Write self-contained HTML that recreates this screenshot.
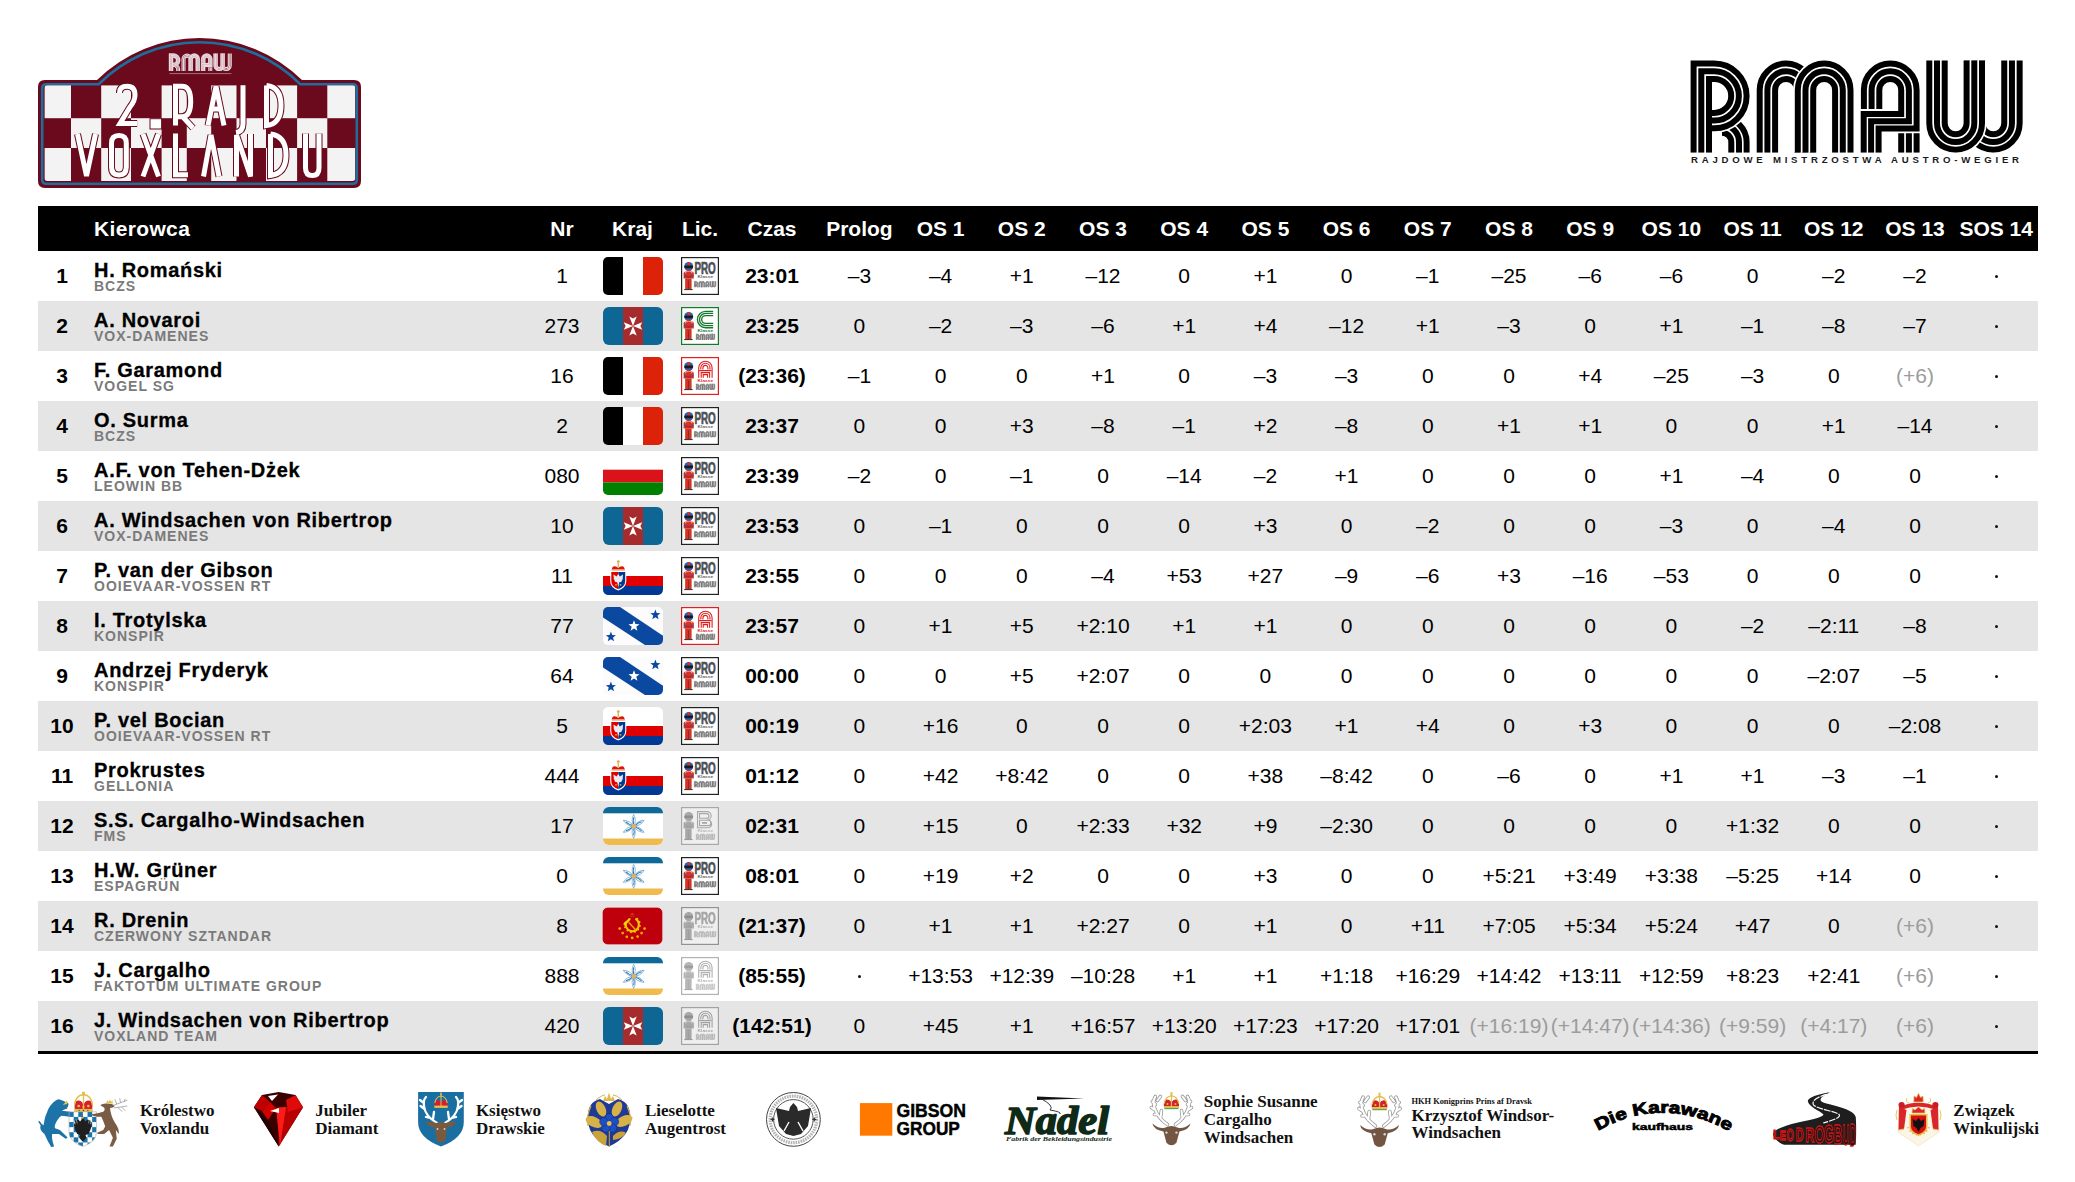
<!DOCTYPE html><html><head><meta charset="utf-8"><title>2. Rajd Voxlandu</title><style>
*{box-sizing:border-box}
html,body{margin:0;padding:0}
body{width:2075px;height:1182px;overflow:hidden;background:#fff;position:relative;font-family:"Liberation Sans",sans-serif;color:#000}
.a{position:absolute;white-space:nowrap}
.hd{position:absolute;left:38px;top:206px;width:1999.5px;height:45px;background:#000}
.ht{position:absolute;top:217.6px;height:22px;line-height:22px;font-size:21px;font-weight:bold;color:#fff;text-align:center;white-space:nowrap}
.row{position:absolute;left:38px;width:1999.5px;height:50px}
.row.g{background:#e5e5e5}
.c{position:absolute;width:120px;text-align:center;height:22px;line-height:22px;font-size:21px;white-space:nowrap}
.rk{font-weight:bold}
.nm{position:absolute;left:94px;font-size:20px;font-weight:bold;-webkit-text-stroke:0.3px #000;height:22px;line-height:22px;letter-spacing:0.7px;white-space:nowrap}
.tm{position:absolute;left:94px;font-size:14px;font-weight:bold;color:#7a7a7a;height:14px;line-height:14px;letter-spacing:1px;white-space:nowrap}
.gr{color:#9c9c9c}
.fl{position:absolute;left:603px;width:60px;height:38px}
.lic{position:absolute;left:681px;width:38px;height:38px}
.bot{position:absolute;left:38px;top:1051px;width:1999.5px;height:3px;background:#000}
</style></head><body>
<svg width="0" height="0" style="position:absolute"><defs><g id="rmawlogo"><clipPath id="rmclip3"><rect x="1660" y="40" width="400" height="112.7"/></clipPath><g clip-path="url(#rmclip3)"><path d="M1722,132.70 A9.30,9.30 0 0 1 1731.30,142 V152.7 M1722,125.00 A17.00,17.00 0 0 1 1739.00,142 V152.7 M1722,117.40 A24.60,24.60 0 0 1 1746.60,142 V152.7" fill="none" stroke="#2a2a2a" stroke-width="6.0" stroke-linejoin="miter" stroke-miterlimit="10"/><path d="M1693.60,152.7 V63.60 H1714.25 A32.35,32.35 0 0 1 1714.25,128.30 H1709 M1701.30,152.7 V71.30 H1714.25 A24.65,24.65 0 0 1 1714.25,120.60 H1709 M1709.00,152.7 V79.00 H1714.25 A16.95,16.95 0 0 1 1714.25,112.90 H1709" fill="none" stroke="#fff" stroke-width="9.40" stroke-linejoin="miter" stroke-miterlimit="10"/><path d="M1693.60,152.7 V63.60 H1714.25 A32.35,32.35 0 0 1 1714.25,128.30 H1709 M1701.30,152.7 V71.30 H1714.25 A24.65,24.65 0 0 1 1714.25,120.60 H1709 M1709.00,152.7 V79.00 H1714.25 A16.95,16.95 0 0 1 1714.25,112.90 H1709" fill="none" stroke="#2a2a2a" stroke-width="6.0" stroke-linejoin="miter" stroke-miterlimit="10"/><path d="M1759.70,152.7 V89.95 A26.35,26.35 0 0 1 1812.40,89.95 V152.7 M1767.40,152.7 V89.95 A18.65,18.65 0 0 1 1804.70,89.95 V152.7 M1775.10,152.7 V89.95 A10.95,10.95 0 0 1 1797.00,89.95 V152.7" fill="none" stroke="#2a2a2a" stroke-width="6.0" stroke-linejoin="miter" stroke-miterlimit="10"/><path d="M1797.80,152.7 V89.95 A26.35,26.35 0 0 1 1850.50,89.95 V152.7 M1805.50,152.7 V89.95 A18.65,18.65 0 0 1 1842.80,89.95 V152.7 M1813.20,152.7 V89.95 A10.95,10.95 0 0 1 1835.10,89.95 V152.7" fill="none" stroke="#fff" stroke-width="9.40" stroke-linejoin="miter" stroke-miterlimit="10"/><path d="M1797.80,152.7 V89.95 A26.35,26.35 0 0 1 1850.50,89.95 V152.7 M1805.50,152.7 V89.95 A18.65,18.65 0 0 1 1842.80,89.95 V152.7 M1813.20,152.7 V89.95 A10.95,10.95 0 0 1 1835.10,89.95 V152.7" fill="none" stroke="#2a2a2a" stroke-width="6.0" stroke-linejoin="miter" stroke-miterlimit="10"/><path d="M1863.90,109 V89.95 A26.35,26.35 0 0 1 1916.60,89.95 V128.5 H1878.6 V152.7 M1871.60,109 V89.95 A18.65,18.65 0 0 1 1908.90,89.95 V121.3 H1871.1 V152.7 M1879.30,109 V89.95 A10.95,10.95 0 0 1 1901.20,89.95 V113.9 H1863.7 V152.7" fill="none" stroke="#fff" stroke-width="9.40" stroke-linejoin="miter" stroke-miterlimit="10"/><path d="M1863.90,109 V89.95 A26.35,26.35 0 0 1 1916.60,89.95 V128.5 H1878.6 V152.7 M1871.60,109 V89.95 A18.65,18.65 0 0 1 1908.90,89.95 V121.3 H1871.1 V152.7 M1879.30,109 V89.95 A10.95,10.95 0 0 1 1901.20,89.95 V113.9 H1863.7 V152.7" fill="none" stroke="#2a2a2a" stroke-width="6.0" stroke-linejoin="miter" stroke-miterlimit="10"/><path d="M1901.2,133.3 V152.7 M1908.9,133.3 V152.7 M1916.6,133.3 V152.7" fill="none" stroke="#2a2a2a" stroke-width="6.0" stroke-linejoin="miter" stroke-miterlimit="10"/><path d="M1966.95,60.6 V123.35 A26.35,26.35 0 0 0 2019.65,123.35 V60.6 M1974.65,60.6 V123.35 A18.65,18.65 0 0 0 2011.95,123.35 V60.6 M1982.35,60.6 V123.35 A10.95,10.95 0 0 0 2004.25,123.35 V60.6" fill="none" stroke="#2a2a2a" stroke-width="6.0" stroke-linejoin="miter" stroke-miterlimit="10"/><path d="M1929.30,60.6 V123.35 A26.35,26.35 0 0 0 1982.00,123.35 V60.6 M1937.00,60.6 V123.35 A18.65,18.65 0 0 0 1974.30,123.35 V60.6 M1944.70,60.6 V123.35 A10.95,10.95 0 0 0 1966.60,123.35 V60.6" fill="none" stroke="#fff" stroke-width="9.40" stroke-linejoin="miter" stroke-miterlimit="10"/><path d="M1929.30,60.6 V123.35 A26.35,26.35 0 0 0 1982.00,123.35 V60.6 M1937.00,60.6 V123.35 A18.65,18.65 0 0 0 1974.30,123.35 V60.6 M1944.70,60.6 V123.35 A10.95,10.95 0 0 0 1966.60,123.35 V60.6" fill="none" stroke="#2a2a2a" stroke-width="6.0" stroke-linejoin="miter" stroke-miterlimit="10"/></g></g></defs></svg>
<div class="hd"></div>
<div class="ht" style="left:94px;text-align:left;letter-spacing:0.35px">Kierowca</div>
<div class="ht" style="left:502.0px;width:120px">Nr</div>
<div class="ht" style="left:572.5px;width:120px">Kraj</div>
<div class="ht" style="left:640.0px;width:120px">Lic.</div>
<div class="ht" style="left:712.0px;width:120px">Czas</div>
<div class="ht" style="left:799.4px;width:120px">Prolog</div>
<div class="ht" style="left:880.6px;width:120px">OS 1</div>
<div class="ht" style="left:961.8px;width:120px">OS 2</div>
<div class="ht" style="left:1043.0px;width:120px">OS 3</div>
<div class="ht" style="left:1124.2px;width:120px">OS 4</div>
<div class="ht" style="left:1205.4px;width:120px">OS 5</div>
<div class="ht" style="left:1286.6px;width:120px">OS 6</div>
<div class="ht" style="left:1367.8px;width:120px">OS 7</div>
<div class="ht" style="left:1449.0px;width:120px">OS 8</div>
<div class="ht" style="left:1530.2px;width:120px">OS 9</div>
<div class="ht" style="left:1611.4px;width:120px">OS 10</div>
<div class="ht" style="left:1692.6px;width:120px">OS 11</div>
<div class="ht" style="left:1773.8px;width:120px">OS 12</div>
<div class="ht" style="left:1855.0px;width:120px">OS 13</div>
<div class="ht" style="left:1936.2px;width:120px">SOS 14</div>
<div class="row" style="top:251px"></div>
<div class="c rk" style="left:2px;top:264.9px">1</div>
<div class="nm" style="top:259.3px">H. Romański</div>
<div class="tm" style="top:279.0px">BCZS</div>
<div class="c" style="left:502.0px;top:264.9px">1</div>
<svg class="fl" style="top:257px" viewBox="0 0 60 38"><clipPath id="cb0"><rect width="60" height="38" rx="5"/></clipPath><g clip-path="url(#cb0)"><rect width="20" height="38" fill="#000"/><rect x="20" width="20" height="38" fill="#fff"/><rect x="40" width="20" height="38" fill="#dc2208"/></g></svg>
<svg class="lic" style="top:257px" viewBox="0 0 38 38"><rect x="0.6" y="0.6" width="36.8" height="36.8" fill="#fff" stroke="#222" stroke-width="1.2"/><g><path d="M2.6 16.2 Q2.6 14.4 4.6 14.4 H10.8 Q12.8 14.4 12.8 16.2 V21.4 H2.6 Z" fill="#d8302a"/><path d="M3 17.5 Q7.7 20.5 12.4 17.5 L12.4 19.6 Q7.7 22 3 19.6 Z" fill="#c02420"/><circle cx="4.4" cy="18.8" r="1.1" fill="#2f5fb0"/><circle cx="11" cy="18.8" r="1.1" fill="#2f5fb0"/><circle cx="4.6" cy="15.6" r="0.8" fill="#f0b040"/><circle cx="10.8" cy="15.6" r="0.8" fill="#f0b040"/><rect x="4" y="21.4" width="6.6" height="10.8" fill="#d8302a"/><rect x="7" y="23.5" width="0.7" height="8.7" fill="#6a2a20"/><rect x="4" y="21.4" width="0.6" height="10.8" fill="#c8a040" opacity="0.7"/><rect x="10" y="21.4" width="0.6" height="10.8" fill="#c8a040" opacity="0.7"/><rect x="3.2" y="32" width="8.4" height="1.1" fill="#3a3a3a"/><circle cx="7.7" cy="9.5" r="4.5" fill="#2f5fb0"/><path d="M6.6 5 H8.8 L8.6 9 H6.8 Z" fill="#d8302a"/><rect x="3.4" y="8.6" width="8.6" height="2.6" rx="1" fill="#1a1a1a"/><path d="M5.5 12 Q7.7 14.6 9.9 12 L9.6 13.8 Q7.7 14.8 5.8 13.8 Z" fill="#d8302a"/></g><text x="13.4" y="17.1" font-family="Liberation Sans" font-weight="bold" font-size="15.6" fill="#4b5056" stroke="#4b5056" stroke-width="0.7" textLength="21.4" lengthAdjust="spacingAndGlyphs">PRO</text><text x="16.6" y="21.4" font-family="Liberation Sans" font-weight="bold" font-size="3.2" fill="#666" textLength="15.6" lengthAdjust="spacingAndGlyphs">Klasse</text><use href="#rmawlogo" transform="translate(13.2,24.2) scale(0.06564 0.06840) translate(-1690.6,-60.6)"/></svg>
<div class="c" style="left:712.0px;top:264.9px;font-weight:bold">23:01</div>
<div class="c" style="left:799.4px;top:264.9px">–3</div>
<div class="c" style="left:880.6px;top:264.9px">–4</div>
<div class="c" style="left:961.8px;top:264.9px">+1</div>
<div class="c" style="left:1043.0px;top:264.9px">–12</div>
<div class="c" style="left:1124.2px;top:264.9px">0</div>
<div class="c" style="left:1205.4px;top:264.9px">+1</div>
<div class="c" style="left:1286.6px;top:264.9px">0</div>
<div class="c" style="left:1367.8px;top:264.9px">–1</div>
<div class="c" style="left:1449.0px;top:264.9px">–25</div>
<div class="c" style="left:1530.2px;top:264.9px">–6</div>
<div class="c" style="left:1611.4px;top:264.9px">–6</div>
<div class="c" style="left:1692.6px;top:264.9px">0</div>
<div class="c" style="left:1773.8px;top:264.9px">–2</div>
<div class="c" style="left:1855.0px;top:264.9px">–2</div>
<div class="a" style="left:1994.7px;top:275.2px;width:3px;height:3px;border-radius:50%;background:#111"></div>
<div class="row g" style="top:301px"></div>
<div class="c rk" style="left:2px;top:314.9px">2</div>
<div class="nm" style="top:309.3px">A. Novaroi</div>
<div class="tm" style="top:329.0px">VOX-DAMENES</div>
<div class="c" style="left:502.0px;top:314.9px">273</div>
<svg class="fl" style="top:307px" viewBox="0 0 60 38"><clipPath id="cb1"><rect width="60" height="38" rx="6"/></clipPath><g clip-path="url(#cb1)"><rect width="60" height="38" fill="#0e6694"/><rect x="20" width="20" height="38" fill="#a62b2c"/></g><path d="M30 19 L26.3 9.5 L30 11.6 L33.7 9.5 Z M30 19 L26.3 28.5 L30 26.4 L33.7 28.5 Z M30 19 L20.8 15.2 L22.6 19 L20.8 22.8 Z M30 19 L39.2 15.2 L37.4 19 L39.2 22.8 Z" fill="#fff"/></svg>
<svg class="lic" style="top:307px" viewBox="0 0 38 38"><rect x="0.6" y="0.6" width="36.8" height="36.8" fill="#fff" stroke="#137a2b" stroke-width="1.2"/><g><path d="M2.6 16.2 Q2.6 14.4 4.6 14.4 H10.8 Q12.8 14.4 12.8 16.2 V21.4 H2.6 Z" fill="#d8302a"/><path d="M3 17.5 Q7.7 20.5 12.4 17.5 L12.4 19.6 Q7.7 22 3 19.6 Z" fill="#c02420"/><circle cx="4.4" cy="18.8" r="1.1" fill="#2f5fb0"/><circle cx="11" cy="18.8" r="1.1" fill="#2f5fb0"/><circle cx="4.6" cy="15.6" r="0.8" fill="#f0b040"/><circle cx="10.8" cy="15.6" r="0.8" fill="#f0b040"/><rect x="4" y="21.4" width="6.6" height="10.8" fill="#d8302a"/><rect x="7" y="23.5" width="0.7" height="8.7" fill="#6a2a20"/><rect x="4" y="21.4" width="0.6" height="10.8" fill="#c8a040" opacity="0.7"/><rect x="10" y="21.4" width="0.6" height="10.8" fill="#c8a040" opacity="0.7"/><rect x="3.2" y="32" width="8.4" height="1.1" fill="#3a3a3a"/><circle cx="7.7" cy="9.5" r="4.5" fill="#2f5fb0"/><path d="M6.6 5 H8.8 L8.6 9 H6.8 Z" fill="#d8302a"/><rect x="3.4" y="8.6" width="8.6" height="2.6" rx="1" fill="#1a1a1a"/><path d="M5.5 12 Q7.7 14.6 9.9 12 L9.6 13.8 Q7.7 14.8 5.8 13.8 Z" fill="#d8302a"/></g><path d="M32.2 4.30 H24.6 A8.2 8.2 0 0 0 24.6 20.70 H32.2" fill="none" stroke="#137a2b" stroke-width="1.35"/><path d="M32.2 6.40 H24.6 A6.1 6.1 0 0 0 24.6 18.60 H32.2" fill="none" stroke="#137a2b" stroke-width="1.35"/><path d="M32.2 8.60 H24.6 A3.9 3.9 0 0 0 24.6 16.40 H32.2" fill="none" stroke="#137a2b" stroke-width="1.35"/><text x="16.6" y="24.9" font-family="Liberation Sans" font-weight="bold" font-size="3.2" fill="#137a2b" textLength="15.6" lengthAdjust="spacingAndGlyphs">Klasse</text><use href="#rmawlogo" transform="translate(15.1,26.8) scale(0.05661 0.06840) translate(-1690.6,-60.6)"/></svg>
<div class="c" style="left:712.0px;top:314.9px;font-weight:bold">23:25</div>
<div class="c" style="left:799.4px;top:314.9px">0</div>
<div class="c" style="left:880.6px;top:314.9px">–2</div>
<div class="c" style="left:961.8px;top:314.9px">–3</div>
<div class="c" style="left:1043.0px;top:314.9px">–6</div>
<div class="c" style="left:1124.2px;top:314.9px">+1</div>
<div class="c" style="left:1205.4px;top:314.9px">+4</div>
<div class="c" style="left:1286.6px;top:314.9px">–12</div>
<div class="c" style="left:1367.8px;top:314.9px">+1</div>
<div class="c" style="left:1449.0px;top:314.9px">–3</div>
<div class="c" style="left:1530.2px;top:314.9px">0</div>
<div class="c" style="left:1611.4px;top:314.9px">+1</div>
<div class="c" style="left:1692.6px;top:314.9px">–1</div>
<div class="c" style="left:1773.8px;top:314.9px">–8</div>
<div class="c" style="left:1855.0px;top:314.9px">–7</div>
<div class="a" style="left:1994.7px;top:325.2px;width:3px;height:3px;border-radius:50%;background:#111"></div>
<div class="row" style="top:351px"></div>
<div class="c rk" style="left:2px;top:364.9px">3</div>
<div class="nm" style="top:359.3px">F. Garamond</div>
<div class="tm" style="top:379.0px">VOGEL SG</div>
<div class="c" style="left:502.0px;top:364.9px">16</div>
<svg class="fl" style="top:357px" viewBox="0 0 60 38"><clipPath id="cb2"><rect width="60" height="38" rx="5"/></clipPath><g clip-path="url(#cb2)"><rect width="20" height="38" fill="#000"/><rect x="20" width="20" height="38" fill="#fff"/><rect x="40" width="20" height="38" fill="#dc2208"/></g></svg>
<svg class="lic" style="top:357px" viewBox="0 0 38 38"><rect x="0.6" y="0.6" width="36.8" height="36.8" fill="#fff" stroke="#e01e1e" stroke-width="1.2"/><g><path d="M2.6 16.2 Q2.6 14.4 4.6 14.4 H10.8 Q12.8 14.4 12.8 16.2 V21.4 H2.6 Z" fill="#d8302a"/><path d="M3 17.5 Q7.7 20.5 12.4 17.5 L12.4 19.6 Q7.7 22 3 19.6 Z" fill="#c02420"/><circle cx="4.4" cy="18.8" r="1.1" fill="#2f5fb0"/><circle cx="11" cy="18.8" r="1.1" fill="#2f5fb0"/><circle cx="4.6" cy="15.6" r="0.8" fill="#f0b040"/><circle cx="10.8" cy="15.6" r="0.8" fill="#f0b040"/><rect x="4" y="21.4" width="6.6" height="10.8" fill="#d8302a"/><rect x="7" y="23.5" width="0.7" height="8.7" fill="#6a2a20"/><rect x="4" y="21.4" width="0.6" height="10.8" fill="#c8a040" opacity="0.7"/><rect x="10" y="21.4" width="0.6" height="10.8" fill="#c8a040" opacity="0.7"/><rect x="3.2" y="32" width="8.4" height="1.1" fill="#3a3a3a"/><circle cx="7.7" cy="9.5" r="4.5" fill="#2f5fb0"/><path d="M6.6 5 H8.8 L8.6 9 H6.8 Z" fill="#d8302a"/><rect x="3.4" y="8.6" width="8.6" height="2.6" rx="1" fill="#1a1a1a"/><path d="M5.5 12 Q7.7 14.6 9.9 12 L9.6 13.8 Q7.7 14.8 5.8 13.8 Z" fill="#d8302a"/></g><path d="M17.70 20.8 V10.9 A6.7 6.7 0 0 1 31.10 10.9 V20.8" fill="none" stroke="#e01e1e" stroke-width="1.1"/><path d="M19.80 12.6 V10.9 A4.6 4.6 0 0 1 29.00 10.9 V12.6" fill="none" stroke="#e01e1e" stroke-width="1.1"/><path d="M21.90 12.6 V10.9 A2.5 2.5 0 0 1 26.90 10.9 V12.6" fill="none" stroke="#e01e1e" stroke-width="1.1"/><path d="M18.2 13.6 H30.6 M20.2 20.8 V15.6 H28.6 V20.8 M22.2 20.8 V17.6 H26.6 V20.8" fill="none" stroke="#e01e1e" stroke-width="1.1"/><text x="16.6" y="24.9" font-family="Liberation Sans" font-weight="bold" font-size="3.2" fill="#e01e1e" textLength="15.6" lengthAdjust="spacingAndGlyphs">Klasse</text><use href="#rmawlogo" transform="translate(15.1,26.8) scale(0.05661 0.06840) translate(-1690.6,-60.6)"/></svg>
<div class="c" style="left:712.0px;top:364.9px;font-weight:bold">(23:36)</div>
<div class="c" style="left:799.4px;top:364.9px">–1</div>
<div class="c" style="left:880.6px;top:364.9px">0</div>
<div class="c" style="left:961.8px;top:364.9px">0</div>
<div class="c" style="left:1043.0px;top:364.9px">+1</div>
<div class="c" style="left:1124.2px;top:364.9px">0</div>
<div class="c" style="left:1205.4px;top:364.9px">–3</div>
<div class="c" style="left:1286.6px;top:364.9px">–3</div>
<div class="c" style="left:1367.8px;top:364.9px">0</div>
<div class="c" style="left:1449.0px;top:364.9px">0</div>
<div class="c" style="left:1530.2px;top:364.9px">+4</div>
<div class="c" style="left:1611.4px;top:364.9px">–25</div>
<div class="c" style="left:1692.6px;top:364.9px">–3</div>
<div class="c" style="left:1773.8px;top:364.9px">0</div>
<div class="c gr" style="left:1855.0px;top:364.9px">(+6)</div>
<div class="a" style="left:1994.7px;top:375.2px;width:3px;height:3px;border-radius:50%;background:#111"></div>
<div class="row g" style="top:401px"></div>
<div class="c rk" style="left:2px;top:414.9px">4</div>
<div class="nm" style="top:409.3px">O. Surma</div>
<div class="tm" style="top:429.0px">BCZS</div>
<div class="c" style="left:502.0px;top:414.9px">2</div>
<svg class="fl" style="top:407px" viewBox="0 0 60 38"><clipPath id="cb3"><rect width="60" height="38" rx="5"/></clipPath><g clip-path="url(#cb3)"><rect width="20" height="38" fill="#000"/><rect x="20" width="20" height="38" fill="#fff"/><rect x="40" width="20" height="38" fill="#dc2208"/></g></svg>
<svg class="lic" style="top:407px" viewBox="0 0 38 38"><rect x="0.6" y="0.6" width="36.8" height="36.8" fill="#fff" stroke="#222" stroke-width="1.2"/><g><path d="M2.6 16.2 Q2.6 14.4 4.6 14.4 H10.8 Q12.8 14.4 12.8 16.2 V21.4 H2.6 Z" fill="#d8302a"/><path d="M3 17.5 Q7.7 20.5 12.4 17.5 L12.4 19.6 Q7.7 22 3 19.6 Z" fill="#c02420"/><circle cx="4.4" cy="18.8" r="1.1" fill="#2f5fb0"/><circle cx="11" cy="18.8" r="1.1" fill="#2f5fb0"/><circle cx="4.6" cy="15.6" r="0.8" fill="#f0b040"/><circle cx="10.8" cy="15.6" r="0.8" fill="#f0b040"/><rect x="4" y="21.4" width="6.6" height="10.8" fill="#d8302a"/><rect x="7" y="23.5" width="0.7" height="8.7" fill="#6a2a20"/><rect x="4" y="21.4" width="0.6" height="10.8" fill="#c8a040" opacity="0.7"/><rect x="10" y="21.4" width="0.6" height="10.8" fill="#c8a040" opacity="0.7"/><rect x="3.2" y="32" width="8.4" height="1.1" fill="#3a3a3a"/><circle cx="7.7" cy="9.5" r="4.5" fill="#2f5fb0"/><path d="M6.6 5 H8.8 L8.6 9 H6.8 Z" fill="#d8302a"/><rect x="3.4" y="8.6" width="8.6" height="2.6" rx="1" fill="#1a1a1a"/><path d="M5.5 12 Q7.7 14.6 9.9 12 L9.6 13.8 Q7.7 14.8 5.8 13.8 Z" fill="#d8302a"/></g><text x="13.4" y="17.1" font-family="Liberation Sans" font-weight="bold" font-size="15.6" fill="#4b5056" stroke="#4b5056" stroke-width="0.7" textLength="21.4" lengthAdjust="spacingAndGlyphs">PRO</text><text x="16.6" y="21.4" font-family="Liberation Sans" font-weight="bold" font-size="3.2" fill="#666" textLength="15.6" lengthAdjust="spacingAndGlyphs">Klasse</text><use href="#rmawlogo" transform="translate(13.2,24.2) scale(0.06564 0.06840) translate(-1690.6,-60.6)"/></svg>
<div class="c" style="left:712.0px;top:414.9px;font-weight:bold">23:37</div>
<div class="c" style="left:799.4px;top:414.9px">0</div>
<div class="c" style="left:880.6px;top:414.9px">0</div>
<div class="c" style="left:961.8px;top:414.9px">+3</div>
<div class="c" style="left:1043.0px;top:414.9px">–8</div>
<div class="c" style="left:1124.2px;top:414.9px">–1</div>
<div class="c" style="left:1205.4px;top:414.9px">+2</div>
<div class="c" style="left:1286.6px;top:414.9px">–8</div>
<div class="c" style="left:1367.8px;top:414.9px">0</div>
<div class="c" style="left:1449.0px;top:414.9px">+1</div>
<div class="c" style="left:1530.2px;top:414.9px">+1</div>
<div class="c" style="left:1611.4px;top:414.9px">0</div>
<div class="c" style="left:1692.6px;top:414.9px">0</div>
<div class="c" style="left:1773.8px;top:414.9px">+1</div>
<div class="c" style="left:1855.0px;top:414.9px">–14</div>
<div class="a" style="left:1994.7px;top:425.2px;width:3px;height:3px;border-radius:50%;background:#111"></div>
<div class="row" style="top:451px"></div>
<div class="c rk" style="left:2px;top:464.9px">5</div>
<div class="nm" style="top:459.3px">A.F. von Tehen-Dżek</div>
<div class="tm" style="top:479.0px">LEOWIN BB</div>
<div class="c" style="left:502.0px;top:464.9px">080</div>
<svg class="fl" style="top:457px" viewBox="0 0 60 38"><clipPath id="cb4"><rect width="60" height="38" rx="5"/></clipPath><g clip-path="url(#cb4)"><rect width="60" height="12.7" fill="#fff"/><rect y="12.7" width="60" height="12.7" fill="#d91319"/><rect y="25.4" width="60" height="12.6" fill="#008000"/></g></svg>
<svg class="lic" style="top:457px" viewBox="0 0 38 38"><rect x="0.6" y="0.6" width="36.8" height="36.8" fill="#fff" stroke="#222" stroke-width="1.2"/><g><path d="M2.6 16.2 Q2.6 14.4 4.6 14.4 H10.8 Q12.8 14.4 12.8 16.2 V21.4 H2.6 Z" fill="#d8302a"/><path d="M3 17.5 Q7.7 20.5 12.4 17.5 L12.4 19.6 Q7.7 22 3 19.6 Z" fill="#c02420"/><circle cx="4.4" cy="18.8" r="1.1" fill="#2f5fb0"/><circle cx="11" cy="18.8" r="1.1" fill="#2f5fb0"/><circle cx="4.6" cy="15.6" r="0.8" fill="#f0b040"/><circle cx="10.8" cy="15.6" r="0.8" fill="#f0b040"/><rect x="4" y="21.4" width="6.6" height="10.8" fill="#d8302a"/><rect x="7" y="23.5" width="0.7" height="8.7" fill="#6a2a20"/><rect x="4" y="21.4" width="0.6" height="10.8" fill="#c8a040" opacity="0.7"/><rect x="10" y="21.4" width="0.6" height="10.8" fill="#c8a040" opacity="0.7"/><rect x="3.2" y="32" width="8.4" height="1.1" fill="#3a3a3a"/><circle cx="7.7" cy="9.5" r="4.5" fill="#2f5fb0"/><path d="M6.6 5 H8.8 L8.6 9 H6.8 Z" fill="#d8302a"/><rect x="3.4" y="8.6" width="8.6" height="2.6" rx="1" fill="#1a1a1a"/><path d="M5.5 12 Q7.7 14.6 9.9 12 L9.6 13.8 Q7.7 14.8 5.8 13.8 Z" fill="#d8302a"/></g><text x="13.4" y="17.1" font-family="Liberation Sans" font-weight="bold" font-size="15.6" fill="#4b5056" stroke="#4b5056" stroke-width="0.7" textLength="21.4" lengthAdjust="spacingAndGlyphs">PRO</text><text x="16.6" y="21.4" font-family="Liberation Sans" font-weight="bold" font-size="3.2" fill="#666" textLength="15.6" lengthAdjust="spacingAndGlyphs">Klasse</text><use href="#rmawlogo" transform="translate(13.2,24.2) scale(0.06564 0.06840) translate(-1690.6,-60.6)"/></svg>
<div class="c" style="left:712.0px;top:464.9px;font-weight:bold">23:39</div>
<div class="c" style="left:799.4px;top:464.9px">–2</div>
<div class="c" style="left:880.6px;top:464.9px">0</div>
<div class="c" style="left:961.8px;top:464.9px">–1</div>
<div class="c" style="left:1043.0px;top:464.9px">0</div>
<div class="c" style="left:1124.2px;top:464.9px">–14</div>
<div class="c" style="left:1205.4px;top:464.9px">–2</div>
<div class="c" style="left:1286.6px;top:464.9px">+1</div>
<div class="c" style="left:1367.8px;top:464.9px">0</div>
<div class="c" style="left:1449.0px;top:464.9px">0</div>
<div class="c" style="left:1530.2px;top:464.9px">0</div>
<div class="c" style="left:1611.4px;top:464.9px">+1</div>
<div class="c" style="left:1692.6px;top:464.9px">–4</div>
<div class="c" style="left:1773.8px;top:464.9px">0</div>
<div class="c" style="left:1855.0px;top:464.9px">0</div>
<div class="a" style="left:1994.7px;top:475.2px;width:3px;height:3px;border-radius:50%;background:#111"></div>
<div class="row g" style="top:501px"></div>
<div class="c rk" style="left:2px;top:514.9px">6</div>
<div class="nm" style="top:509.3px">A. Windsachen von Ribertrop</div>
<div class="tm" style="top:529.0px">VOX-DAMENES</div>
<div class="c" style="left:502.0px;top:514.9px">10</div>
<svg class="fl" style="top:507px" viewBox="0 0 60 38"><clipPath id="cb5"><rect width="60" height="38" rx="6"/></clipPath><g clip-path="url(#cb5)"><rect width="60" height="38" fill="#0e6694"/><rect x="20" width="20" height="38" fill="#a62b2c"/></g><path d="M30 19 L26.3 9.5 L30 11.6 L33.7 9.5 Z M30 19 L26.3 28.5 L30 26.4 L33.7 28.5 Z M30 19 L20.8 15.2 L22.6 19 L20.8 22.8 Z M30 19 L39.2 15.2 L37.4 19 L39.2 22.8 Z" fill="#fff"/></svg>
<svg class="lic" style="top:507px" viewBox="0 0 38 38"><rect x="0.6" y="0.6" width="36.8" height="36.8" fill="#fff" stroke="#222" stroke-width="1.2"/><g><path d="M2.6 16.2 Q2.6 14.4 4.6 14.4 H10.8 Q12.8 14.4 12.8 16.2 V21.4 H2.6 Z" fill="#d8302a"/><path d="M3 17.5 Q7.7 20.5 12.4 17.5 L12.4 19.6 Q7.7 22 3 19.6 Z" fill="#c02420"/><circle cx="4.4" cy="18.8" r="1.1" fill="#2f5fb0"/><circle cx="11" cy="18.8" r="1.1" fill="#2f5fb0"/><circle cx="4.6" cy="15.6" r="0.8" fill="#f0b040"/><circle cx="10.8" cy="15.6" r="0.8" fill="#f0b040"/><rect x="4" y="21.4" width="6.6" height="10.8" fill="#d8302a"/><rect x="7" y="23.5" width="0.7" height="8.7" fill="#6a2a20"/><rect x="4" y="21.4" width="0.6" height="10.8" fill="#c8a040" opacity="0.7"/><rect x="10" y="21.4" width="0.6" height="10.8" fill="#c8a040" opacity="0.7"/><rect x="3.2" y="32" width="8.4" height="1.1" fill="#3a3a3a"/><circle cx="7.7" cy="9.5" r="4.5" fill="#2f5fb0"/><path d="M6.6 5 H8.8 L8.6 9 H6.8 Z" fill="#d8302a"/><rect x="3.4" y="8.6" width="8.6" height="2.6" rx="1" fill="#1a1a1a"/><path d="M5.5 12 Q7.7 14.6 9.9 12 L9.6 13.8 Q7.7 14.8 5.8 13.8 Z" fill="#d8302a"/></g><text x="13.4" y="17.1" font-family="Liberation Sans" font-weight="bold" font-size="15.6" fill="#4b5056" stroke="#4b5056" stroke-width="0.7" textLength="21.4" lengthAdjust="spacingAndGlyphs">PRO</text><text x="16.6" y="21.4" font-family="Liberation Sans" font-weight="bold" font-size="3.2" fill="#666" textLength="15.6" lengthAdjust="spacingAndGlyphs">Klasse</text><use href="#rmawlogo" transform="translate(13.2,24.2) scale(0.06564 0.06840) translate(-1690.6,-60.6)"/></svg>
<div class="c" style="left:712.0px;top:514.9px;font-weight:bold">23:53</div>
<div class="c" style="left:799.4px;top:514.9px">0</div>
<div class="c" style="left:880.6px;top:514.9px">–1</div>
<div class="c" style="left:961.8px;top:514.9px">0</div>
<div class="c" style="left:1043.0px;top:514.9px">0</div>
<div class="c" style="left:1124.2px;top:514.9px">0</div>
<div class="c" style="left:1205.4px;top:514.9px">+3</div>
<div class="c" style="left:1286.6px;top:514.9px">0</div>
<div class="c" style="left:1367.8px;top:514.9px">–2</div>
<div class="c" style="left:1449.0px;top:514.9px">0</div>
<div class="c" style="left:1530.2px;top:514.9px">0</div>
<div class="c" style="left:1611.4px;top:514.9px">–3</div>
<div class="c" style="left:1692.6px;top:514.9px">0</div>
<div class="c" style="left:1773.8px;top:514.9px">–4</div>
<div class="c" style="left:1855.0px;top:514.9px">0</div>
<div class="a" style="left:1994.7px;top:525.2px;width:3px;height:3px;border-radius:50%;background:#111"></div>
<div class="row" style="top:551px"></div>
<div class="c rk" style="left:2px;top:564.9px">7</div>
<div class="nm" style="top:559.3px">P. van der Gibson</div>
<div class="tm" style="top:579.0px">OOIEVAAR-VOSSEN RT</div>
<div class="c" style="left:502.0px;top:564.9px">11</div>
<svg class="fl" style="top:557px" viewBox="0 0 60 38"><clipPath id="cb6"><rect width="60" height="38" rx="5.5"/></clipPath><g clip-path="url(#cb6)"><rect width="60" height="19" fill="#fff"/><rect y="19" width="60" height="10" fill="#e00000"/><rect y="29" width="60" height="9" fill="#003894"/></g><path d="M7.2 14 H23.3 V24 Q23.3 30.5 15.25 33.6 Q7.2 30.5 7.2 24 Z" fill="#fff"/><path d="M8.3 15 H15.25 V32.3 Q8.3 29.6 8.3 24 Z" fill="#e00000"/><path d="M15.25 15 H22.2 V24 Q22.2 29.6 15.25 32.3 Z" fill="#003894"/><path d="M15.25 17 L13.6 19.5 L10.5 17.5 L10.8 22 L12.3 25 L14.3 25.2 L15.25 30 L16.2 25.2 L18.2 25 L19.7 22 L20 17.5 L16.9 19.5 Z" fill="#e8eaee"/><circle cx="13" cy="27.8" r="0.9" fill="#e0b030"/><circle cx="17.5" cy="27.8" r="0.9" fill="#e0b030"/><path d="M8.8 13.4 Q8.6 9.5 11.5 9.3 Q14 9.3 15.25 11 Q16.5 9.3 19 9.3 Q21.9 9.5 21.7 13.4 Z" fill="#e31010"/><rect x="8.8" y="12.3" width="12.9" height="1.5" fill="#e8d8a0"/><rect x="14.6" y="5.5" width="1.3" height="5" fill="#d8b040"/><circle cx="15.25" cy="4.6" r="1.4" fill="#d8b040"/></svg>
<svg class="lic" style="top:557px" viewBox="0 0 38 38"><rect x="0.6" y="0.6" width="36.8" height="36.8" fill="#fff" stroke="#222" stroke-width="1.2"/><g><path d="M2.6 16.2 Q2.6 14.4 4.6 14.4 H10.8 Q12.8 14.4 12.8 16.2 V21.4 H2.6 Z" fill="#d8302a"/><path d="M3 17.5 Q7.7 20.5 12.4 17.5 L12.4 19.6 Q7.7 22 3 19.6 Z" fill="#c02420"/><circle cx="4.4" cy="18.8" r="1.1" fill="#2f5fb0"/><circle cx="11" cy="18.8" r="1.1" fill="#2f5fb0"/><circle cx="4.6" cy="15.6" r="0.8" fill="#f0b040"/><circle cx="10.8" cy="15.6" r="0.8" fill="#f0b040"/><rect x="4" y="21.4" width="6.6" height="10.8" fill="#d8302a"/><rect x="7" y="23.5" width="0.7" height="8.7" fill="#6a2a20"/><rect x="4" y="21.4" width="0.6" height="10.8" fill="#c8a040" opacity="0.7"/><rect x="10" y="21.4" width="0.6" height="10.8" fill="#c8a040" opacity="0.7"/><rect x="3.2" y="32" width="8.4" height="1.1" fill="#3a3a3a"/><circle cx="7.7" cy="9.5" r="4.5" fill="#2f5fb0"/><path d="M6.6 5 H8.8 L8.6 9 H6.8 Z" fill="#d8302a"/><rect x="3.4" y="8.6" width="8.6" height="2.6" rx="1" fill="#1a1a1a"/><path d="M5.5 12 Q7.7 14.6 9.9 12 L9.6 13.8 Q7.7 14.8 5.8 13.8 Z" fill="#d8302a"/></g><text x="13.4" y="17.1" font-family="Liberation Sans" font-weight="bold" font-size="15.6" fill="#4b5056" stroke="#4b5056" stroke-width="0.7" textLength="21.4" lengthAdjust="spacingAndGlyphs">PRO</text><text x="16.6" y="21.4" font-family="Liberation Sans" font-weight="bold" font-size="3.2" fill="#666" textLength="15.6" lengthAdjust="spacingAndGlyphs">Klasse</text><use href="#rmawlogo" transform="translate(13.2,24.2) scale(0.06564 0.06840) translate(-1690.6,-60.6)"/></svg>
<div class="c" style="left:712.0px;top:564.9px;font-weight:bold">23:55</div>
<div class="c" style="left:799.4px;top:564.9px">0</div>
<div class="c" style="left:880.6px;top:564.9px">0</div>
<div class="c" style="left:961.8px;top:564.9px">0</div>
<div class="c" style="left:1043.0px;top:564.9px">–4</div>
<div class="c" style="left:1124.2px;top:564.9px">+53</div>
<div class="c" style="left:1205.4px;top:564.9px">+27</div>
<div class="c" style="left:1286.6px;top:564.9px">–9</div>
<div class="c" style="left:1367.8px;top:564.9px">–6</div>
<div class="c" style="left:1449.0px;top:564.9px">+3</div>
<div class="c" style="left:1530.2px;top:564.9px">–16</div>
<div class="c" style="left:1611.4px;top:564.9px">–53</div>
<div class="c" style="left:1692.6px;top:564.9px">0</div>
<div class="c" style="left:1773.8px;top:564.9px">0</div>
<div class="c" style="left:1855.0px;top:564.9px">0</div>
<div class="a" style="left:1994.7px;top:575.2px;width:3px;height:3px;border-radius:50%;background:#111"></div>
<div class="row g" style="top:601px"></div>
<div class="c rk" style="left:2px;top:614.9px">8</div>
<div class="nm" style="top:609.3px">I. Trotylska</div>
<div class="tm" style="top:629.0px">KONSPIR</div>
<div class="c" style="left:502.0px;top:614.9px">77</div>
<svg class="fl" style="top:607px" viewBox="0 0 60 38"><clipPath id="cb7"><rect width="60" height="38" rx="5"/></clipPath><g clip-path="url(#cb7)"><rect width="60" height="38" fill="#fcfcfc"/><path d="M0 -2 L14 -2 L62 30 L62 40 L45 40 L0 10.5 Z" fill="#0b49a0"/></g><polygon points="31.00,13.20 32.43,17.03 36.52,17.21 33.32,19.75 34.41,23.69 31.00,21.44 27.59,23.69 28.68,19.75 25.48,17.21 29.57,17.03" fill="#fff"/><polygon points="52.40,2.60 53.71,6.10 57.44,6.26 54.52,8.59 55.52,12.19 52.40,10.13 49.28,12.19 50.28,8.59 47.36,6.26 51.09,6.10" fill="#0b49a0"/><polygon points="7.90,24.60 9.21,28.10 12.94,28.26 10.02,30.59 11.02,34.19 7.90,32.13 4.78,34.19 5.78,30.59 2.86,28.26 6.59,28.10" fill="#0b49a0"/></svg>
<svg class="lic" style="top:607px" viewBox="0 0 38 38"><rect x="0.6" y="0.6" width="36.8" height="36.8" fill="#fff" stroke="#e01e1e" stroke-width="1.2"/><g><path d="M2.6 16.2 Q2.6 14.4 4.6 14.4 H10.8 Q12.8 14.4 12.8 16.2 V21.4 H2.6 Z" fill="#d8302a"/><path d="M3 17.5 Q7.7 20.5 12.4 17.5 L12.4 19.6 Q7.7 22 3 19.6 Z" fill="#c02420"/><circle cx="4.4" cy="18.8" r="1.1" fill="#2f5fb0"/><circle cx="11" cy="18.8" r="1.1" fill="#2f5fb0"/><circle cx="4.6" cy="15.6" r="0.8" fill="#f0b040"/><circle cx="10.8" cy="15.6" r="0.8" fill="#f0b040"/><rect x="4" y="21.4" width="6.6" height="10.8" fill="#d8302a"/><rect x="7" y="23.5" width="0.7" height="8.7" fill="#6a2a20"/><rect x="4" y="21.4" width="0.6" height="10.8" fill="#c8a040" opacity="0.7"/><rect x="10" y="21.4" width="0.6" height="10.8" fill="#c8a040" opacity="0.7"/><rect x="3.2" y="32" width="8.4" height="1.1" fill="#3a3a3a"/><circle cx="7.7" cy="9.5" r="4.5" fill="#2f5fb0"/><path d="M6.6 5 H8.8 L8.6 9 H6.8 Z" fill="#d8302a"/><rect x="3.4" y="8.6" width="8.6" height="2.6" rx="1" fill="#1a1a1a"/><path d="M5.5 12 Q7.7 14.6 9.9 12 L9.6 13.8 Q7.7 14.8 5.8 13.8 Z" fill="#d8302a"/></g><path d="M17.70 20.8 V10.9 A6.7 6.7 0 0 1 31.10 10.9 V20.8" fill="none" stroke="#e01e1e" stroke-width="1.1"/><path d="M19.80 12.6 V10.9 A4.6 4.6 0 0 1 29.00 10.9 V12.6" fill="none" stroke="#e01e1e" stroke-width="1.1"/><path d="M21.90 12.6 V10.9 A2.5 2.5 0 0 1 26.90 10.9 V12.6" fill="none" stroke="#e01e1e" stroke-width="1.1"/><path d="M18.2 13.6 H30.6 M20.2 20.8 V15.6 H28.6 V20.8 M22.2 20.8 V17.6 H26.6 V20.8" fill="none" stroke="#e01e1e" stroke-width="1.1"/><text x="16.6" y="24.9" font-family="Liberation Sans" font-weight="bold" font-size="3.2" fill="#e01e1e" textLength="15.6" lengthAdjust="spacingAndGlyphs">Klasse</text><use href="#rmawlogo" transform="translate(15.1,26.8) scale(0.05661 0.06840) translate(-1690.6,-60.6)"/></svg>
<div class="c" style="left:712.0px;top:614.9px;font-weight:bold">23:57</div>
<div class="c" style="left:799.4px;top:614.9px">0</div>
<div class="c" style="left:880.6px;top:614.9px">+1</div>
<div class="c" style="left:961.8px;top:614.9px">+5</div>
<div class="c" style="left:1043.0px;top:614.9px">+2:10</div>
<div class="c" style="left:1124.2px;top:614.9px">+1</div>
<div class="c" style="left:1205.4px;top:614.9px">+1</div>
<div class="c" style="left:1286.6px;top:614.9px">0</div>
<div class="c" style="left:1367.8px;top:614.9px">0</div>
<div class="c" style="left:1449.0px;top:614.9px">0</div>
<div class="c" style="left:1530.2px;top:614.9px">0</div>
<div class="c" style="left:1611.4px;top:614.9px">0</div>
<div class="c" style="left:1692.6px;top:614.9px">–2</div>
<div class="c" style="left:1773.8px;top:614.9px">–2:11</div>
<div class="c" style="left:1855.0px;top:614.9px">–8</div>
<div class="a" style="left:1994.7px;top:625.2px;width:3px;height:3px;border-radius:50%;background:#111"></div>
<div class="row" style="top:651px"></div>
<div class="c rk" style="left:2px;top:664.9px">9</div>
<div class="nm" style="top:659.3px">Andrzej Fryderyk</div>
<div class="tm" style="top:679.0px">KONSPIR</div>
<div class="c" style="left:502.0px;top:664.9px">64</div>
<svg class="fl" style="top:657px" viewBox="0 0 60 38"><clipPath id="cb8"><rect width="60" height="38" rx="5"/></clipPath><g clip-path="url(#cb8)"><rect width="60" height="38" fill="#fcfcfc"/><path d="M0 -2 L14 -2 L62 30 L62 40 L45 40 L0 10.5 Z" fill="#0b49a0"/></g><polygon points="31.00,13.20 32.43,17.03 36.52,17.21 33.32,19.75 34.41,23.69 31.00,21.44 27.59,23.69 28.68,19.75 25.48,17.21 29.57,17.03" fill="#fff"/><polygon points="52.40,2.60 53.71,6.10 57.44,6.26 54.52,8.59 55.52,12.19 52.40,10.13 49.28,12.19 50.28,8.59 47.36,6.26 51.09,6.10" fill="#0b49a0"/><polygon points="7.90,24.60 9.21,28.10 12.94,28.26 10.02,30.59 11.02,34.19 7.90,32.13 4.78,34.19 5.78,30.59 2.86,28.26 6.59,28.10" fill="#0b49a0"/></svg>
<svg class="lic" style="top:657px" viewBox="0 0 38 38"><rect x="0.6" y="0.6" width="36.8" height="36.8" fill="#fff" stroke="#222" stroke-width="1.2"/><g><path d="M2.6 16.2 Q2.6 14.4 4.6 14.4 H10.8 Q12.8 14.4 12.8 16.2 V21.4 H2.6 Z" fill="#d8302a"/><path d="M3 17.5 Q7.7 20.5 12.4 17.5 L12.4 19.6 Q7.7 22 3 19.6 Z" fill="#c02420"/><circle cx="4.4" cy="18.8" r="1.1" fill="#2f5fb0"/><circle cx="11" cy="18.8" r="1.1" fill="#2f5fb0"/><circle cx="4.6" cy="15.6" r="0.8" fill="#f0b040"/><circle cx="10.8" cy="15.6" r="0.8" fill="#f0b040"/><rect x="4" y="21.4" width="6.6" height="10.8" fill="#d8302a"/><rect x="7" y="23.5" width="0.7" height="8.7" fill="#6a2a20"/><rect x="4" y="21.4" width="0.6" height="10.8" fill="#c8a040" opacity="0.7"/><rect x="10" y="21.4" width="0.6" height="10.8" fill="#c8a040" opacity="0.7"/><rect x="3.2" y="32" width="8.4" height="1.1" fill="#3a3a3a"/><circle cx="7.7" cy="9.5" r="4.5" fill="#2f5fb0"/><path d="M6.6 5 H8.8 L8.6 9 H6.8 Z" fill="#d8302a"/><rect x="3.4" y="8.6" width="8.6" height="2.6" rx="1" fill="#1a1a1a"/><path d="M5.5 12 Q7.7 14.6 9.9 12 L9.6 13.8 Q7.7 14.8 5.8 13.8 Z" fill="#d8302a"/></g><text x="13.4" y="17.1" font-family="Liberation Sans" font-weight="bold" font-size="15.6" fill="#4b5056" stroke="#4b5056" stroke-width="0.7" textLength="21.4" lengthAdjust="spacingAndGlyphs">PRO</text><text x="16.6" y="21.4" font-family="Liberation Sans" font-weight="bold" font-size="3.2" fill="#666" textLength="15.6" lengthAdjust="spacingAndGlyphs">Klasse</text><use href="#rmawlogo" transform="translate(13.2,24.2) scale(0.06564 0.06840) translate(-1690.6,-60.6)"/></svg>
<div class="c" style="left:712.0px;top:664.9px;font-weight:bold">00:00</div>
<div class="c" style="left:799.4px;top:664.9px">0</div>
<div class="c" style="left:880.6px;top:664.9px">0</div>
<div class="c" style="left:961.8px;top:664.9px">+5</div>
<div class="c" style="left:1043.0px;top:664.9px">+2:07</div>
<div class="c" style="left:1124.2px;top:664.9px">0</div>
<div class="c" style="left:1205.4px;top:664.9px">0</div>
<div class="c" style="left:1286.6px;top:664.9px">0</div>
<div class="c" style="left:1367.8px;top:664.9px">0</div>
<div class="c" style="left:1449.0px;top:664.9px">0</div>
<div class="c" style="left:1530.2px;top:664.9px">0</div>
<div class="c" style="left:1611.4px;top:664.9px">0</div>
<div class="c" style="left:1692.6px;top:664.9px">0</div>
<div class="c" style="left:1773.8px;top:664.9px">–2:07</div>
<div class="c" style="left:1855.0px;top:664.9px">–5</div>
<div class="a" style="left:1994.7px;top:675.2px;width:3px;height:3px;border-radius:50%;background:#111"></div>
<div class="row g" style="top:701px"></div>
<div class="c rk" style="left:2px;top:714.9px">10</div>
<div class="nm" style="top:709.3px">P. vel Bocian</div>
<div class="tm" style="top:729.0px">OOIEVAAR-VOSSEN RT</div>
<div class="c" style="left:502.0px;top:714.9px">5</div>
<svg class="fl" style="top:707px" viewBox="0 0 60 38"><clipPath id="cb9"><rect width="60" height="38" rx="5.5"/></clipPath><g clip-path="url(#cb9)"><rect width="60" height="19" fill="#fff"/><rect y="19" width="60" height="10" fill="#e00000"/><rect y="29" width="60" height="9" fill="#003894"/></g><path d="M7.2 14 H23.3 V24 Q23.3 30.5 15.25 33.6 Q7.2 30.5 7.2 24 Z" fill="#fff"/><path d="M8.3 15 H15.25 V32.3 Q8.3 29.6 8.3 24 Z" fill="#e00000"/><path d="M15.25 15 H22.2 V24 Q22.2 29.6 15.25 32.3 Z" fill="#003894"/><path d="M15.25 17 L13.6 19.5 L10.5 17.5 L10.8 22 L12.3 25 L14.3 25.2 L15.25 30 L16.2 25.2 L18.2 25 L19.7 22 L20 17.5 L16.9 19.5 Z" fill="#e8eaee"/><circle cx="13" cy="27.8" r="0.9" fill="#e0b030"/><circle cx="17.5" cy="27.8" r="0.9" fill="#e0b030"/><path d="M8.8 13.4 Q8.6 9.5 11.5 9.3 Q14 9.3 15.25 11 Q16.5 9.3 19 9.3 Q21.9 9.5 21.7 13.4 Z" fill="#e31010"/><rect x="8.8" y="12.3" width="12.9" height="1.5" fill="#e8d8a0"/><rect x="14.6" y="5.5" width="1.3" height="5" fill="#d8b040"/><circle cx="15.25" cy="4.6" r="1.4" fill="#d8b040"/></svg>
<svg class="lic" style="top:707px" viewBox="0 0 38 38"><rect x="0.6" y="0.6" width="36.8" height="36.8" fill="#fff" stroke="#222" stroke-width="1.2"/><g><path d="M2.6 16.2 Q2.6 14.4 4.6 14.4 H10.8 Q12.8 14.4 12.8 16.2 V21.4 H2.6 Z" fill="#d8302a"/><path d="M3 17.5 Q7.7 20.5 12.4 17.5 L12.4 19.6 Q7.7 22 3 19.6 Z" fill="#c02420"/><circle cx="4.4" cy="18.8" r="1.1" fill="#2f5fb0"/><circle cx="11" cy="18.8" r="1.1" fill="#2f5fb0"/><circle cx="4.6" cy="15.6" r="0.8" fill="#f0b040"/><circle cx="10.8" cy="15.6" r="0.8" fill="#f0b040"/><rect x="4" y="21.4" width="6.6" height="10.8" fill="#d8302a"/><rect x="7" y="23.5" width="0.7" height="8.7" fill="#6a2a20"/><rect x="4" y="21.4" width="0.6" height="10.8" fill="#c8a040" opacity="0.7"/><rect x="10" y="21.4" width="0.6" height="10.8" fill="#c8a040" opacity="0.7"/><rect x="3.2" y="32" width="8.4" height="1.1" fill="#3a3a3a"/><circle cx="7.7" cy="9.5" r="4.5" fill="#2f5fb0"/><path d="M6.6 5 H8.8 L8.6 9 H6.8 Z" fill="#d8302a"/><rect x="3.4" y="8.6" width="8.6" height="2.6" rx="1" fill="#1a1a1a"/><path d="M5.5 12 Q7.7 14.6 9.9 12 L9.6 13.8 Q7.7 14.8 5.8 13.8 Z" fill="#d8302a"/></g><text x="13.4" y="17.1" font-family="Liberation Sans" font-weight="bold" font-size="15.6" fill="#4b5056" stroke="#4b5056" stroke-width="0.7" textLength="21.4" lengthAdjust="spacingAndGlyphs">PRO</text><text x="16.6" y="21.4" font-family="Liberation Sans" font-weight="bold" font-size="3.2" fill="#666" textLength="15.6" lengthAdjust="spacingAndGlyphs">Klasse</text><use href="#rmawlogo" transform="translate(13.2,24.2) scale(0.06564 0.06840) translate(-1690.6,-60.6)"/></svg>
<div class="c" style="left:712.0px;top:714.9px;font-weight:bold">00:19</div>
<div class="c" style="left:799.4px;top:714.9px">0</div>
<div class="c" style="left:880.6px;top:714.9px">+16</div>
<div class="c" style="left:961.8px;top:714.9px">0</div>
<div class="c" style="left:1043.0px;top:714.9px">0</div>
<div class="c" style="left:1124.2px;top:714.9px">0</div>
<div class="c" style="left:1205.4px;top:714.9px">+2:03</div>
<div class="c" style="left:1286.6px;top:714.9px">+1</div>
<div class="c" style="left:1367.8px;top:714.9px">+4</div>
<div class="c" style="left:1449.0px;top:714.9px">0</div>
<div class="c" style="left:1530.2px;top:714.9px">+3</div>
<div class="c" style="left:1611.4px;top:714.9px">0</div>
<div class="c" style="left:1692.6px;top:714.9px">0</div>
<div class="c" style="left:1773.8px;top:714.9px">0</div>
<div class="c" style="left:1855.0px;top:714.9px">–2:08</div>
<div class="a" style="left:1994.7px;top:725.2px;width:3px;height:3px;border-radius:50%;background:#111"></div>
<div class="row" style="top:751px"></div>
<div class="c rk" style="left:2px;top:764.9px">11</div>
<div class="nm" style="top:759.3px">Prokrustes</div>
<div class="tm" style="top:779.0px">GELLONIA</div>
<div class="c" style="left:502.0px;top:764.9px">444</div>
<svg class="fl" style="top:757px" viewBox="0 0 60 38"><clipPath id="cb10"><rect width="60" height="38" rx="5.5"/></clipPath><g clip-path="url(#cb10)"><rect width="60" height="19" fill="#fff"/><rect y="19" width="60" height="10" fill="#e00000"/><rect y="29" width="60" height="9" fill="#003894"/></g><path d="M7.2 14 H23.3 V24 Q23.3 30.5 15.25 33.6 Q7.2 30.5 7.2 24 Z" fill="#fff"/><path d="M8.3 15 H15.25 V32.3 Q8.3 29.6 8.3 24 Z" fill="#e00000"/><path d="M15.25 15 H22.2 V24 Q22.2 29.6 15.25 32.3 Z" fill="#003894"/><path d="M15.25 17 L13.6 19.5 L10.5 17.5 L10.8 22 L12.3 25 L14.3 25.2 L15.25 30 L16.2 25.2 L18.2 25 L19.7 22 L20 17.5 L16.9 19.5 Z" fill="#e8eaee"/><circle cx="13" cy="27.8" r="0.9" fill="#e0b030"/><circle cx="17.5" cy="27.8" r="0.9" fill="#e0b030"/><path d="M8.8 13.4 Q8.6 9.5 11.5 9.3 Q14 9.3 15.25 11 Q16.5 9.3 19 9.3 Q21.9 9.5 21.7 13.4 Z" fill="#e31010"/><rect x="8.8" y="12.3" width="12.9" height="1.5" fill="#e8d8a0"/><rect x="14.6" y="5.5" width="1.3" height="5" fill="#d8b040"/><circle cx="15.25" cy="4.6" r="1.4" fill="#d8b040"/></svg>
<svg class="lic" style="top:757px" viewBox="0 0 38 38"><rect x="0.6" y="0.6" width="36.8" height="36.8" fill="#fff" stroke="#222" stroke-width="1.2"/><g><path d="M2.6 16.2 Q2.6 14.4 4.6 14.4 H10.8 Q12.8 14.4 12.8 16.2 V21.4 H2.6 Z" fill="#d8302a"/><path d="M3 17.5 Q7.7 20.5 12.4 17.5 L12.4 19.6 Q7.7 22 3 19.6 Z" fill="#c02420"/><circle cx="4.4" cy="18.8" r="1.1" fill="#2f5fb0"/><circle cx="11" cy="18.8" r="1.1" fill="#2f5fb0"/><circle cx="4.6" cy="15.6" r="0.8" fill="#f0b040"/><circle cx="10.8" cy="15.6" r="0.8" fill="#f0b040"/><rect x="4" y="21.4" width="6.6" height="10.8" fill="#d8302a"/><rect x="7" y="23.5" width="0.7" height="8.7" fill="#6a2a20"/><rect x="4" y="21.4" width="0.6" height="10.8" fill="#c8a040" opacity="0.7"/><rect x="10" y="21.4" width="0.6" height="10.8" fill="#c8a040" opacity="0.7"/><rect x="3.2" y="32" width="8.4" height="1.1" fill="#3a3a3a"/><circle cx="7.7" cy="9.5" r="4.5" fill="#2f5fb0"/><path d="M6.6 5 H8.8 L8.6 9 H6.8 Z" fill="#d8302a"/><rect x="3.4" y="8.6" width="8.6" height="2.6" rx="1" fill="#1a1a1a"/><path d="M5.5 12 Q7.7 14.6 9.9 12 L9.6 13.8 Q7.7 14.8 5.8 13.8 Z" fill="#d8302a"/></g><text x="13.4" y="17.1" font-family="Liberation Sans" font-weight="bold" font-size="15.6" fill="#4b5056" stroke="#4b5056" stroke-width="0.7" textLength="21.4" lengthAdjust="spacingAndGlyphs">PRO</text><text x="16.6" y="21.4" font-family="Liberation Sans" font-weight="bold" font-size="3.2" fill="#666" textLength="15.6" lengthAdjust="spacingAndGlyphs">Klasse</text><use href="#rmawlogo" transform="translate(13.2,24.2) scale(0.06564 0.06840) translate(-1690.6,-60.6)"/></svg>
<div class="c" style="left:712.0px;top:764.9px;font-weight:bold">01:12</div>
<div class="c" style="left:799.4px;top:764.9px">0</div>
<div class="c" style="left:880.6px;top:764.9px">+42</div>
<div class="c" style="left:961.8px;top:764.9px">+8:42</div>
<div class="c" style="left:1043.0px;top:764.9px">0</div>
<div class="c" style="left:1124.2px;top:764.9px">0</div>
<div class="c" style="left:1205.4px;top:764.9px">+38</div>
<div class="c" style="left:1286.6px;top:764.9px">–8:42</div>
<div class="c" style="left:1367.8px;top:764.9px">0</div>
<div class="c" style="left:1449.0px;top:764.9px">–6</div>
<div class="c" style="left:1530.2px;top:764.9px">0</div>
<div class="c" style="left:1611.4px;top:764.9px">+1</div>
<div class="c" style="left:1692.6px;top:764.9px">+1</div>
<div class="c" style="left:1773.8px;top:764.9px">–3</div>
<div class="c" style="left:1855.0px;top:764.9px">–1</div>
<div class="a" style="left:1994.7px;top:775.2px;width:3px;height:3px;border-radius:50%;background:#111"></div>
<div class="row g" style="top:801px"></div>
<div class="c rk" style="left:2px;top:814.9px">12</div>
<div class="nm" style="top:809.3px">S.S. Cargalho-Windsachen</div>
<div class="tm" style="top:829.0px">FMS</div>
<div class="c" style="left:502.0px;top:814.9px">17</div>
<svg class="fl" style="top:807px" viewBox="0 0 60 38"><clipPath id="cb11"><rect width="60" height="38" rx="6"/></clipPath><g clip-path="url(#cb11)"><rect width="60" height="38" fill="#fff"/><rect width="60" height="6.3" fill="#0e6898"/><rect y="31.5" width="60" height="6.5" fill="#f1ba4d"/></g><path d="M30.7 19.3 Q27.5 13.3 30.7 7.300000000000001 Q33.9 13.3 30.7 19.3 Z" transform="rotate(0 30.7 19.3)" fill="#fff" stroke="#3f86bd" stroke-width="0.55"/><path d="M30.7 17.3 Q29.8 13.8 30.7 10.3" transform="rotate(0 30.7 19.3)" fill="none" stroke="#2a74ad" stroke-width="1"/><path d="M30.7 19.3 Q27.5 13.3 30.7 7.300000000000001 Q33.9 13.3 30.7 19.3 Z" transform="rotate(60 30.7 19.3)" fill="#fff" stroke="#3f86bd" stroke-width="0.55"/><path d="M30.7 17.3 Q29.8 13.8 30.7 10.3" transform="rotate(60 30.7 19.3)" fill="none" stroke="#2a74ad" stroke-width="1"/><path d="M30.7 19.3 Q27.5 13.3 30.7 7.300000000000001 Q33.9 13.3 30.7 19.3 Z" transform="rotate(120 30.7 19.3)" fill="#fff" stroke="#3f86bd" stroke-width="0.55"/><path d="M30.7 17.3 Q29.8 13.8 30.7 10.3" transform="rotate(120 30.7 19.3)" fill="none" stroke="#2a74ad" stroke-width="1"/><path d="M30.7 19.3 Q27.5 13.3 30.7 7.300000000000001 Q33.9 13.3 30.7 19.3 Z" transform="rotate(180 30.7 19.3)" fill="#fff" stroke="#3f86bd" stroke-width="0.55"/><path d="M30.7 17.3 Q29.8 13.8 30.7 10.3" transform="rotate(180 30.7 19.3)" fill="none" stroke="#2a74ad" stroke-width="1"/><path d="M30.7 19.3 Q27.5 13.3 30.7 7.300000000000001 Q33.9 13.3 30.7 19.3 Z" transform="rotate(240 30.7 19.3)" fill="#fff" stroke="#3f86bd" stroke-width="0.55"/><path d="M30.7 17.3 Q29.8 13.8 30.7 10.3" transform="rotate(240 30.7 19.3)" fill="none" stroke="#2a74ad" stroke-width="1"/><path d="M30.7 19.3 Q27.5 13.3 30.7 7.300000000000001 Q33.9 13.3 30.7 19.3 Z" transform="rotate(300 30.7 19.3)" fill="#fff" stroke="#3f86bd" stroke-width="0.55"/><path d="M30.7 17.3 Q29.8 13.8 30.7 10.3" transform="rotate(300 30.7 19.3)" fill="none" stroke="#2a74ad" stroke-width="1"/><circle cx="30.7" cy="19.3" r="2.1" fill="#f0b040"/></svg>
<svg class="lic" style="top:807px;opacity:0.42;filter:grayscale(1)" viewBox="0 0 38 38"><rect x="0.6" y="0.6" width="36.8" height="36.8" fill="#fff" stroke="#555" stroke-width="1.2"/><g><path d="M2.6 16.2 Q2.6 14.4 4.6 14.4 H10.8 Q12.8 14.4 12.8 16.2 V21.4 H2.6 Z" fill="#d8302a"/><path d="M3 17.5 Q7.7 20.5 12.4 17.5 L12.4 19.6 Q7.7 22 3 19.6 Z" fill="#c02420"/><circle cx="4.4" cy="18.8" r="1.1" fill="#2f5fb0"/><circle cx="11" cy="18.8" r="1.1" fill="#2f5fb0"/><circle cx="4.6" cy="15.6" r="0.8" fill="#f0b040"/><circle cx="10.8" cy="15.6" r="0.8" fill="#f0b040"/><rect x="4" y="21.4" width="6.6" height="10.8" fill="#d8302a"/><rect x="7" y="23.5" width="0.7" height="8.7" fill="#6a2a20"/><rect x="4" y="21.4" width="0.6" height="10.8" fill="#c8a040" opacity="0.7"/><rect x="10" y="21.4" width="0.6" height="10.8" fill="#c8a040" opacity="0.7"/><rect x="3.2" y="32" width="8.4" height="1.1" fill="#3a3a3a"/><circle cx="7.7" cy="9.5" r="4.5" fill="#2f5fb0"/><path d="M6.6 5 H8.8 L8.6 9 H6.8 Z" fill="#d8302a"/><rect x="3.4" y="8.6" width="8.6" height="2.6" rx="1" fill="#1a1a1a"/><path d="M5.5 12 Q7.7 14.6 9.9 12 L9.6 13.8 Q7.7 14.8 5.8 13.8 Z" fill="#d8302a"/></g><path d="M16.5 4.6 H26 A4.2 4.2 0 0 1 26 13 A4 4 0 0 1 28 20.7 H16.5 Z M18.5 6.6 H25.6 A2.3 2.3 0 0 1 25.6 11.3 H18.5 Z M18.5 13.2 H27.2 A2.5 2.5 0 0 1 27.2 18.6 H18.5 Z" fill="none" stroke="#555" stroke-width="1.1"/><rect x="21" y="15" width="5" height="1.8" fill="#555"/><text x="16.6" y="24.9" font-family="Liberation Sans" font-weight="bold" font-size="3.2" fill="#777" textLength="15.6" lengthAdjust="spacingAndGlyphs">Klasse</text><use href="#rmawlogo" transform="translate(15.1,26.8) scale(0.05661 0.06840) translate(-1690.6,-60.6)"/></svg>
<div class="c" style="left:712.0px;top:814.9px;font-weight:bold">02:31</div>
<div class="c" style="left:799.4px;top:814.9px">0</div>
<div class="c" style="left:880.6px;top:814.9px">+15</div>
<div class="c" style="left:961.8px;top:814.9px">0</div>
<div class="c" style="left:1043.0px;top:814.9px">+2:33</div>
<div class="c" style="left:1124.2px;top:814.9px">+32</div>
<div class="c" style="left:1205.4px;top:814.9px">+9</div>
<div class="c" style="left:1286.6px;top:814.9px">–2:30</div>
<div class="c" style="left:1367.8px;top:814.9px">0</div>
<div class="c" style="left:1449.0px;top:814.9px">0</div>
<div class="c" style="left:1530.2px;top:814.9px">0</div>
<div class="c" style="left:1611.4px;top:814.9px">0</div>
<div class="c" style="left:1692.6px;top:814.9px">+1:32</div>
<div class="c" style="left:1773.8px;top:814.9px">0</div>
<div class="c" style="left:1855.0px;top:814.9px">0</div>
<div class="a" style="left:1994.7px;top:825.2px;width:3px;height:3px;border-radius:50%;background:#111"></div>
<div class="row" style="top:851px"></div>
<div class="c rk" style="left:2px;top:864.9px">13</div>
<div class="nm" style="top:859.3px">H.W. Grüner</div>
<div class="tm" style="top:879.0px">ESPAGRÜN</div>
<div class="c" style="left:502.0px;top:864.9px">0</div>
<svg class="fl" style="top:857px" viewBox="0 0 60 38"><clipPath id="cb12"><rect width="60" height="38" rx="6"/></clipPath><g clip-path="url(#cb12)"><rect width="60" height="38" fill="#fff"/><rect width="60" height="6.3" fill="#0e6898"/><rect y="31.5" width="60" height="6.5" fill="#f1ba4d"/></g><path d="M30.7 19.3 Q27.5 13.3 30.7 7.300000000000001 Q33.9 13.3 30.7 19.3 Z" transform="rotate(0 30.7 19.3)" fill="#fff" stroke="#3f86bd" stroke-width="0.55"/><path d="M30.7 17.3 Q29.8 13.8 30.7 10.3" transform="rotate(0 30.7 19.3)" fill="none" stroke="#2a74ad" stroke-width="1"/><path d="M30.7 19.3 Q27.5 13.3 30.7 7.300000000000001 Q33.9 13.3 30.7 19.3 Z" transform="rotate(60 30.7 19.3)" fill="#fff" stroke="#3f86bd" stroke-width="0.55"/><path d="M30.7 17.3 Q29.8 13.8 30.7 10.3" transform="rotate(60 30.7 19.3)" fill="none" stroke="#2a74ad" stroke-width="1"/><path d="M30.7 19.3 Q27.5 13.3 30.7 7.300000000000001 Q33.9 13.3 30.7 19.3 Z" transform="rotate(120 30.7 19.3)" fill="#fff" stroke="#3f86bd" stroke-width="0.55"/><path d="M30.7 17.3 Q29.8 13.8 30.7 10.3" transform="rotate(120 30.7 19.3)" fill="none" stroke="#2a74ad" stroke-width="1"/><path d="M30.7 19.3 Q27.5 13.3 30.7 7.300000000000001 Q33.9 13.3 30.7 19.3 Z" transform="rotate(180 30.7 19.3)" fill="#fff" stroke="#3f86bd" stroke-width="0.55"/><path d="M30.7 17.3 Q29.8 13.8 30.7 10.3" transform="rotate(180 30.7 19.3)" fill="none" stroke="#2a74ad" stroke-width="1"/><path d="M30.7 19.3 Q27.5 13.3 30.7 7.300000000000001 Q33.9 13.3 30.7 19.3 Z" transform="rotate(240 30.7 19.3)" fill="#fff" stroke="#3f86bd" stroke-width="0.55"/><path d="M30.7 17.3 Q29.8 13.8 30.7 10.3" transform="rotate(240 30.7 19.3)" fill="none" stroke="#2a74ad" stroke-width="1"/><path d="M30.7 19.3 Q27.5 13.3 30.7 7.300000000000001 Q33.9 13.3 30.7 19.3 Z" transform="rotate(300 30.7 19.3)" fill="#fff" stroke="#3f86bd" stroke-width="0.55"/><path d="M30.7 17.3 Q29.8 13.8 30.7 10.3" transform="rotate(300 30.7 19.3)" fill="none" stroke="#2a74ad" stroke-width="1"/><circle cx="30.7" cy="19.3" r="2.1" fill="#f0b040"/></svg>
<svg class="lic" style="top:857px" viewBox="0 0 38 38"><rect x="0.6" y="0.6" width="36.8" height="36.8" fill="#fff" stroke="#222" stroke-width="1.2"/><g><path d="M2.6 16.2 Q2.6 14.4 4.6 14.4 H10.8 Q12.8 14.4 12.8 16.2 V21.4 H2.6 Z" fill="#d8302a"/><path d="M3 17.5 Q7.7 20.5 12.4 17.5 L12.4 19.6 Q7.7 22 3 19.6 Z" fill="#c02420"/><circle cx="4.4" cy="18.8" r="1.1" fill="#2f5fb0"/><circle cx="11" cy="18.8" r="1.1" fill="#2f5fb0"/><circle cx="4.6" cy="15.6" r="0.8" fill="#f0b040"/><circle cx="10.8" cy="15.6" r="0.8" fill="#f0b040"/><rect x="4" y="21.4" width="6.6" height="10.8" fill="#d8302a"/><rect x="7" y="23.5" width="0.7" height="8.7" fill="#6a2a20"/><rect x="4" y="21.4" width="0.6" height="10.8" fill="#c8a040" opacity="0.7"/><rect x="10" y="21.4" width="0.6" height="10.8" fill="#c8a040" opacity="0.7"/><rect x="3.2" y="32" width="8.4" height="1.1" fill="#3a3a3a"/><circle cx="7.7" cy="9.5" r="4.5" fill="#2f5fb0"/><path d="M6.6 5 H8.8 L8.6 9 H6.8 Z" fill="#d8302a"/><rect x="3.4" y="8.6" width="8.6" height="2.6" rx="1" fill="#1a1a1a"/><path d="M5.5 12 Q7.7 14.6 9.9 12 L9.6 13.8 Q7.7 14.8 5.8 13.8 Z" fill="#d8302a"/></g><text x="13.4" y="17.1" font-family="Liberation Sans" font-weight="bold" font-size="15.6" fill="#4b5056" stroke="#4b5056" stroke-width="0.7" textLength="21.4" lengthAdjust="spacingAndGlyphs">PRO</text><text x="16.6" y="21.4" font-family="Liberation Sans" font-weight="bold" font-size="3.2" fill="#666" textLength="15.6" lengthAdjust="spacingAndGlyphs">Klasse</text><use href="#rmawlogo" transform="translate(13.2,24.2) scale(0.06564 0.06840) translate(-1690.6,-60.6)"/></svg>
<div class="c" style="left:712.0px;top:864.9px;font-weight:bold">08:01</div>
<div class="c" style="left:799.4px;top:864.9px">0</div>
<div class="c" style="left:880.6px;top:864.9px">+19</div>
<div class="c" style="left:961.8px;top:864.9px">+2</div>
<div class="c" style="left:1043.0px;top:864.9px">0</div>
<div class="c" style="left:1124.2px;top:864.9px">0</div>
<div class="c" style="left:1205.4px;top:864.9px">+3</div>
<div class="c" style="left:1286.6px;top:864.9px">0</div>
<div class="c" style="left:1367.8px;top:864.9px">0</div>
<div class="c" style="left:1449.0px;top:864.9px">+5:21</div>
<div class="c" style="left:1530.2px;top:864.9px">+3:49</div>
<div class="c" style="left:1611.4px;top:864.9px">+3:38</div>
<div class="c" style="left:1692.6px;top:864.9px">–5:25</div>
<div class="c" style="left:1773.8px;top:864.9px">+14</div>
<div class="c" style="left:1855.0px;top:864.9px">0</div>
<div class="a" style="left:1994.7px;top:875.2px;width:3px;height:3px;border-radius:50%;background:#111"></div>
<div class="row g" style="top:901px"></div>
<div class="c rk" style="left:2px;top:914.9px">14</div>
<div class="nm" style="top:909.3px">R. Drenin</div>
<div class="tm" style="top:929.0px">CZERWONY SZTANDAR</div>
<div class="c" style="left:502.0px;top:914.9px">8</div>
<svg class="fl" style="top:907px;left:602px;width:61px" viewBox="0 0 61 38"><rect x="0.3" y="0.3" width="60.4" height="37.4" rx="5.5" fill="#be000c" stroke="#f4f4f4" stroke-width="0.6"/><path d="M33.40 11.77 A6.6 6.6 0 1 1 24.47 14.50" fill="none" stroke="#f7c800" stroke-width="2.1"/><circle cx="35.31" cy="11.62" r="0.9" fill="#f7c800"/><circle cx="37.63" cy="14.93" r="0.9" fill="#f7c800"/><circle cx="37.98" cy="18.95" r="0.9" fill="#f7c800"/><circle cx="36.28" cy="22.61" r="0.9" fill="#f7c800"/><circle cx="32.97" cy="24.93" r="0.9" fill="#f7c800"/><circle cx="28.95" cy="25.28" r="0.9" fill="#f7c800"/><circle cx="25.29" cy="23.58" r="0.9" fill="#f7c800"/><circle cx="22.97" cy="20.27" r="0.9" fill="#f7c800"/><circle cx="22.62" cy="16.25" r="0.9" fill="#f7c800"/><path d="M26.6 15.3 L34 23.2" stroke="#f0a800" stroke-width="1.3"/><path d="M22.6 17.2 L27.4 12.2" stroke="#ffd400" stroke-width="2.3" stroke-linecap="round"/><circle cx="17.7" cy="21.6" r="1.35" fill="#f5b000"/><circle cx="20.7" cy="26.1" r="1.35" fill="#f5b000"/><circle cx="24.8" cy="29.8" r="1.35" fill="#f5b000"/><circle cx="30.2" cy="30.9" r="1.35" fill="#f5b000"/><circle cx="35.6" cy="29.6" r="1.35" fill="#f5b000"/><circle cx="39.6" cy="26.1" r="1.35" fill="#f5b000"/><circle cx="42.6" cy="21.6" r="1.35" fill="#f5b000"/><path d="M28 7.8 L30.3 5.8 L32.6 7.8 Z M28 8.8 H32.6 V9.6 H28 Z" fill="#d84010"/></svg>
<svg class="lic" style="top:907px;opacity:0.42;filter:grayscale(1)" viewBox="0 0 38 38"><rect x="0.6" y="0.6" width="36.8" height="36.8" fill="#fff" stroke="#222" stroke-width="1.2"/><g><path d="M2.6 16.2 Q2.6 14.4 4.6 14.4 H10.8 Q12.8 14.4 12.8 16.2 V21.4 H2.6 Z" fill="#d8302a"/><path d="M3 17.5 Q7.7 20.5 12.4 17.5 L12.4 19.6 Q7.7 22 3 19.6 Z" fill="#c02420"/><circle cx="4.4" cy="18.8" r="1.1" fill="#2f5fb0"/><circle cx="11" cy="18.8" r="1.1" fill="#2f5fb0"/><circle cx="4.6" cy="15.6" r="0.8" fill="#f0b040"/><circle cx="10.8" cy="15.6" r="0.8" fill="#f0b040"/><rect x="4" y="21.4" width="6.6" height="10.8" fill="#d8302a"/><rect x="7" y="23.5" width="0.7" height="8.7" fill="#6a2a20"/><rect x="4" y="21.4" width="0.6" height="10.8" fill="#c8a040" opacity="0.7"/><rect x="10" y="21.4" width="0.6" height="10.8" fill="#c8a040" opacity="0.7"/><rect x="3.2" y="32" width="8.4" height="1.1" fill="#3a3a3a"/><circle cx="7.7" cy="9.5" r="4.5" fill="#2f5fb0"/><path d="M6.6 5 H8.8 L8.6 9 H6.8 Z" fill="#d8302a"/><rect x="3.4" y="8.6" width="8.6" height="2.6" rx="1" fill="#1a1a1a"/><path d="M5.5 12 Q7.7 14.6 9.9 12 L9.6 13.8 Q7.7 14.8 5.8 13.8 Z" fill="#d8302a"/></g><text x="13.4" y="17.1" font-family="Liberation Sans" font-weight="bold" font-size="15.6" fill="#4b5056" stroke="#4b5056" stroke-width="0.7" textLength="21.4" lengthAdjust="spacingAndGlyphs">PRO</text><text x="16.6" y="21.4" font-family="Liberation Sans" font-weight="bold" font-size="3.2" fill="#666" textLength="15.6" lengthAdjust="spacingAndGlyphs">Klasse</text><use href="#rmawlogo" transform="translate(13.2,24.2) scale(0.06564 0.06840) translate(-1690.6,-60.6)"/></svg>
<div class="c" style="left:712.0px;top:914.9px;font-weight:bold">(21:37)</div>
<div class="c" style="left:799.4px;top:914.9px">0</div>
<div class="c" style="left:880.6px;top:914.9px">+1</div>
<div class="c" style="left:961.8px;top:914.9px">+1</div>
<div class="c" style="left:1043.0px;top:914.9px">+2:27</div>
<div class="c" style="left:1124.2px;top:914.9px">0</div>
<div class="c" style="left:1205.4px;top:914.9px">+1</div>
<div class="c" style="left:1286.6px;top:914.9px">0</div>
<div class="c" style="left:1367.8px;top:914.9px">+11</div>
<div class="c" style="left:1449.0px;top:914.9px">+7:05</div>
<div class="c" style="left:1530.2px;top:914.9px">+5:34</div>
<div class="c" style="left:1611.4px;top:914.9px">+5:24</div>
<div class="c" style="left:1692.6px;top:914.9px">+47</div>
<div class="c" style="left:1773.8px;top:914.9px">0</div>
<div class="c gr" style="left:1855.0px;top:914.9px">(+6)</div>
<div class="a" style="left:1994.7px;top:925.2px;width:3px;height:3px;border-radius:50%;background:#111"></div>
<div class="row" style="top:951px"></div>
<div class="c rk" style="left:2px;top:964.9px">15</div>
<div class="nm" style="top:959.3px">J. Cargalho</div>
<div class="tm" style="top:979.0px">FAKTOTUM ULTIMATE GROUP</div>
<div class="c" style="left:502.0px;top:964.9px">888</div>
<svg class="fl" style="top:957px" viewBox="0 0 60 38"><clipPath id="cb14"><rect width="60" height="38" rx="6"/></clipPath><g clip-path="url(#cb14)"><rect width="60" height="38" fill="#fff"/><rect width="60" height="6.3" fill="#0e6898"/><rect y="31.5" width="60" height="6.5" fill="#f1ba4d"/></g><path d="M30.7 19.3 Q27.5 13.3 30.7 7.300000000000001 Q33.9 13.3 30.7 19.3 Z" transform="rotate(0 30.7 19.3)" fill="#fff" stroke="#3f86bd" stroke-width="0.55"/><path d="M30.7 17.3 Q29.8 13.8 30.7 10.3" transform="rotate(0 30.7 19.3)" fill="none" stroke="#2a74ad" stroke-width="1"/><path d="M30.7 19.3 Q27.5 13.3 30.7 7.300000000000001 Q33.9 13.3 30.7 19.3 Z" transform="rotate(60 30.7 19.3)" fill="#fff" stroke="#3f86bd" stroke-width="0.55"/><path d="M30.7 17.3 Q29.8 13.8 30.7 10.3" transform="rotate(60 30.7 19.3)" fill="none" stroke="#2a74ad" stroke-width="1"/><path d="M30.7 19.3 Q27.5 13.3 30.7 7.300000000000001 Q33.9 13.3 30.7 19.3 Z" transform="rotate(120 30.7 19.3)" fill="#fff" stroke="#3f86bd" stroke-width="0.55"/><path d="M30.7 17.3 Q29.8 13.8 30.7 10.3" transform="rotate(120 30.7 19.3)" fill="none" stroke="#2a74ad" stroke-width="1"/><path d="M30.7 19.3 Q27.5 13.3 30.7 7.300000000000001 Q33.9 13.3 30.7 19.3 Z" transform="rotate(180 30.7 19.3)" fill="#fff" stroke="#3f86bd" stroke-width="0.55"/><path d="M30.7 17.3 Q29.8 13.8 30.7 10.3" transform="rotate(180 30.7 19.3)" fill="none" stroke="#2a74ad" stroke-width="1"/><path d="M30.7 19.3 Q27.5 13.3 30.7 7.300000000000001 Q33.9 13.3 30.7 19.3 Z" transform="rotate(240 30.7 19.3)" fill="#fff" stroke="#3f86bd" stroke-width="0.55"/><path d="M30.7 17.3 Q29.8 13.8 30.7 10.3" transform="rotate(240 30.7 19.3)" fill="none" stroke="#2a74ad" stroke-width="1"/><path d="M30.7 19.3 Q27.5 13.3 30.7 7.300000000000001 Q33.9 13.3 30.7 19.3 Z" transform="rotate(300 30.7 19.3)" fill="#fff" stroke="#3f86bd" stroke-width="0.55"/><path d="M30.7 17.3 Q29.8 13.8 30.7 10.3" transform="rotate(300 30.7 19.3)" fill="none" stroke="#2a74ad" stroke-width="1"/><circle cx="30.7" cy="19.3" r="2.1" fill="#f0b040"/></svg>
<svg class="lic" style="top:957px;opacity:0.42;filter:grayscale(1)" viewBox="0 0 38 38"><rect x="0.6" y="0.6" width="36.8" height="36.8" fill="#fff" stroke="#e01e1e" stroke-width="1.2"/><g><path d="M2.6 16.2 Q2.6 14.4 4.6 14.4 H10.8 Q12.8 14.4 12.8 16.2 V21.4 H2.6 Z" fill="#d8302a"/><path d="M3 17.5 Q7.7 20.5 12.4 17.5 L12.4 19.6 Q7.7 22 3 19.6 Z" fill="#c02420"/><circle cx="4.4" cy="18.8" r="1.1" fill="#2f5fb0"/><circle cx="11" cy="18.8" r="1.1" fill="#2f5fb0"/><circle cx="4.6" cy="15.6" r="0.8" fill="#f0b040"/><circle cx="10.8" cy="15.6" r="0.8" fill="#f0b040"/><rect x="4" y="21.4" width="6.6" height="10.8" fill="#d8302a"/><rect x="7" y="23.5" width="0.7" height="8.7" fill="#6a2a20"/><rect x="4" y="21.4" width="0.6" height="10.8" fill="#c8a040" opacity="0.7"/><rect x="10" y="21.4" width="0.6" height="10.8" fill="#c8a040" opacity="0.7"/><rect x="3.2" y="32" width="8.4" height="1.1" fill="#3a3a3a"/><circle cx="7.7" cy="9.5" r="4.5" fill="#2f5fb0"/><path d="M6.6 5 H8.8 L8.6 9 H6.8 Z" fill="#d8302a"/><rect x="3.4" y="8.6" width="8.6" height="2.6" rx="1" fill="#1a1a1a"/><path d="M5.5 12 Q7.7 14.6 9.9 12 L9.6 13.8 Q7.7 14.8 5.8 13.8 Z" fill="#d8302a"/></g><path d="M17.70 20.8 V10.9 A6.7 6.7 0 0 1 31.10 10.9 V20.8" fill="none" stroke="#e01e1e" stroke-width="1.1"/><path d="M19.80 12.6 V10.9 A4.6 4.6 0 0 1 29.00 10.9 V12.6" fill="none" stroke="#e01e1e" stroke-width="1.1"/><path d="M21.90 12.6 V10.9 A2.5 2.5 0 0 1 26.90 10.9 V12.6" fill="none" stroke="#e01e1e" stroke-width="1.1"/><path d="M18.2 13.6 H30.6 M20.2 20.8 V15.6 H28.6 V20.8 M22.2 20.8 V17.6 H26.6 V20.8" fill="none" stroke="#e01e1e" stroke-width="1.1"/><text x="16.6" y="24.9" font-family="Liberation Sans" font-weight="bold" font-size="3.2" fill="#e01e1e" textLength="15.6" lengthAdjust="spacingAndGlyphs">Klasse</text><use href="#rmawlogo" transform="translate(15.1,26.8) scale(0.05661 0.06840) translate(-1690.6,-60.6)"/></svg>
<div class="c" style="left:712.0px;top:964.9px;font-weight:bold">(85:55)</div>
<div class="a" style="left:857.9px;top:975.2px;width:3px;height:3px;border-radius:50%;background:#111"></div>
<div class="c" style="left:880.6px;top:964.9px">+13:53</div>
<div class="c" style="left:961.8px;top:964.9px">+12:39</div>
<div class="c" style="left:1043.0px;top:964.9px">–10:28</div>
<div class="c" style="left:1124.2px;top:964.9px">+1</div>
<div class="c" style="left:1205.4px;top:964.9px">+1</div>
<div class="c" style="left:1286.6px;top:964.9px">+1:18</div>
<div class="c" style="left:1367.8px;top:964.9px">+16:29</div>
<div class="c" style="left:1449.0px;top:964.9px">+14:42</div>
<div class="c" style="left:1530.2px;top:964.9px">+13:11</div>
<div class="c" style="left:1611.4px;top:964.9px">+12:59</div>
<div class="c" style="left:1692.6px;top:964.9px">+8:23</div>
<div class="c" style="left:1773.8px;top:964.9px">+2:41</div>
<div class="c gr" style="left:1855.0px;top:964.9px">(+6)</div>
<div class="a" style="left:1994.7px;top:975.2px;width:3px;height:3px;border-radius:50%;background:#111"></div>
<div class="row g" style="top:1001px"></div>
<div class="c rk" style="left:2px;top:1014.9px">16</div>
<div class="nm" style="top:1009.3px">J. Windsachen von Ribertrop</div>
<div class="tm" style="top:1029.0px">VOXLAND TEAM</div>
<div class="c" style="left:502.0px;top:1014.9px">420</div>
<svg class="fl" style="top:1007px" viewBox="0 0 60 38"><clipPath id="cb15"><rect width="60" height="38" rx="6"/></clipPath><g clip-path="url(#cb15)"><rect width="60" height="38" fill="#0e6694"/><rect x="20" width="20" height="38" fill="#a62b2c"/></g><path d="M30 19 L26.3 9.5 L30 11.6 L33.7 9.5 Z M30 19 L26.3 28.5 L30 26.4 L33.7 28.5 Z M30 19 L20.8 15.2 L22.6 19 L20.8 22.8 Z M30 19 L39.2 15.2 L37.4 19 L39.2 22.8 Z" fill="#fff"/></svg>
<svg class="lic" style="top:1007px;opacity:0.42;filter:grayscale(1)" viewBox="0 0 38 38"><rect x="0.6" y="0.6" width="36.8" height="36.8" fill="#fff" stroke="#e01e1e" stroke-width="1.2"/><g><path d="M2.6 16.2 Q2.6 14.4 4.6 14.4 H10.8 Q12.8 14.4 12.8 16.2 V21.4 H2.6 Z" fill="#d8302a"/><path d="M3 17.5 Q7.7 20.5 12.4 17.5 L12.4 19.6 Q7.7 22 3 19.6 Z" fill="#c02420"/><circle cx="4.4" cy="18.8" r="1.1" fill="#2f5fb0"/><circle cx="11" cy="18.8" r="1.1" fill="#2f5fb0"/><circle cx="4.6" cy="15.6" r="0.8" fill="#f0b040"/><circle cx="10.8" cy="15.6" r="0.8" fill="#f0b040"/><rect x="4" y="21.4" width="6.6" height="10.8" fill="#d8302a"/><rect x="7" y="23.5" width="0.7" height="8.7" fill="#6a2a20"/><rect x="4" y="21.4" width="0.6" height="10.8" fill="#c8a040" opacity="0.7"/><rect x="10" y="21.4" width="0.6" height="10.8" fill="#c8a040" opacity="0.7"/><rect x="3.2" y="32" width="8.4" height="1.1" fill="#3a3a3a"/><circle cx="7.7" cy="9.5" r="4.5" fill="#2f5fb0"/><path d="M6.6 5 H8.8 L8.6 9 H6.8 Z" fill="#d8302a"/><rect x="3.4" y="8.6" width="8.6" height="2.6" rx="1" fill="#1a1a1a"/><path d="M5.5 12 Q7.7 14.6 9.9 12 L9.6 13.8 Q7.7 14.8 5.8 13.8 Z" fill="#d8302a"/></g><path d="M17.70 20.8 V10.9 A6.7 6.7 0 0 1 31.10 10.9 V20.8" fill="none" stroke="#e01e1e" stroke-width="1.1"/><path d="M19.80 12.6 V10.9 A4.6 4.6 0 0 1 29.00 10.9 V12.6" fill="none" stroke="#e01e1e" stroke-width="1.1"/><path d="M21.90 12.6 V10.9 A2.5 2.5 0 0 1 26.90 10.9 V12.6" fill="none" stroke="#e01e1e" stroke-width="1.1"/><path d="M18.2 13.6 H30.6 M20.2 20.8 V15.6 H28.6 V20.8 M22.2 20.8 V17.6 H26.6 V20.8" fill="none" stroke="#e01e1e" stroke-width="1.1"/><text x="16.6" y="24.9" font-family="Liberation Sans" font-weight="bold" font-size="3.2" fill="#e01e1e" textLength="15.6" lengthAdjust="spacingAndGlyphs">Klasse</text><use href="#rmawlogo" transform="translate(15.1,26.8) scale(0.05661 0.06840) translate(-1690.6,-60.6)"/></svg>
<div class="c" style="left:712.0px;top:1014.9px;font-weight:bold">(142:51)</div>
<div class="c" style="left:799.4px;top:1014.9px">0</div>
<div class="c" style="left:880.6px;top:1014.9px">+45</div>
<div class="c" style="left:961.8px;top:1014.9px">+1</div>
<div class="c" style="left:1043.0px;top:1014.9px">+16:57</div>
<div class="c" style="left:1124.2px;top:1014.9px">+13:20</div>
<div class="c" style="left:1205.4px;top:1014.9px">+17:23</div>
<div class="c" style="left:1286.6px;top:1014.9px">+17:20</div>
<div class="c" style="left:1367.8px;top:1014.9px">+17:01</div>
<div class="c gr" style="left:1449.0px;top:1014.9px">(+16:19)</div>
<div class="c gr" style="left:1530.2px;top:1014.9px">(+14:47)</div>
<div class="c gr" style="left:1611.4px;top:1014.9px">(+14:36)</div>
<div class="c gr" style="left:1692.6px;top:1014.9px">(+9:59)</div>
<div class="c gr" style="left:1773.8px;top:1014.9px">(+4:17)</div>
<div class="c gr" style="left:1855.0px;top:1014.9px">(+6)</div>
<div class="a" style="left:1994.7px;top:1025.2px;width:3px;height:3px;border-radius:50%;background:#111"></div>
<div class="bot"></div>
<svg class="a" style="left:0;top:0" width="400" height="200" viewBox="0 0 400 200"><path d="M45.00,80.00 L97.03,80.00 A146.00,146.00 0 0 1 301.97,80.00 L354.00,80.00 Q361.00,80.00 361.00,87.00 L361.00,181.00 Q361.00,188.00 354.00,188.00 L45.00,188.00 Q38.00,188.00 38.00,181.00 L38.00,87.00 Q38.00,80.00 45.00,80.00 Z" fill="#6a0a1c"/><path d="M46.20,84.20 L98.77,84.20 A141.80,141.80 0 0 1 300.23,84.20 L352.80,84.20 Q356.80,84.20 356.80,88.20 L356.80,179.80 Q356.80,183.80 352.80,183.80 L46.20,183.80 Q42.20,183.80 42.20,179.80 L42.20,88.20 Q42.20,84.20 46.20,84.20 Z" fill="none" stroke="#1f6d9c" stroke-width="2.6"/><clipPath id="ckc"><rect x="44.4" y="85.2" width="310.9" height="95.8" rx="3"/></clipPath><g clip-path="url(#ckc)"><rect x="44.40" y="85.20" width="26.60" height="33.00" fill="#f3f3f3"/><rect x="101.20" y="85.20" width="29.80" height="33.00" fill="#f3f3f3"/><rect x="161.60" y="85.20" width="25.20" height="33.00" fill="#f3f3f3"/><rect x="211.20" y="85.20" width="25.30" height="33.00" fill="#f3f3f3"/><rect x="266.00" y="85.20" width="31.10" height="33.00" fill="#f3f3f3"/><rect x="327.30" y="85.20" width="28.00" height="33.00" fill="#f3f3f3"/><rect x="71.00" y="118.20" width="30.20" height="29.80" fill="#f3f3f3"/><rect x="131.00" y="118.20" width="30.60" height="29.80" fill="#f3f3f3"/><rect x="186.80" y="118.20" width="24.40" height="29.80" fill="#f3f3f3"/><rect x="236.50" y="118.20" width="29.50" height="29.80" fill="#f3f3f3"/><rect x="297.10" y="118.20" width="30.20" height="29.80" fill="#f3f3f3"/><rect x="44.40" y="148.00" width="26.60" height="33.00" fill="#f3f3f3"/><rect x="101.20" y="148.00" width="29.80" height="33.00" fill="#f3f3f3"/><rect x="161.60" y="148.00" width="25.20" height="33.00" fill="#f3f3f3"/><rect x="211.20" y="148.00" width="25.30" height="33.00" fill="#f3f3f3"/><rect x="266.00" y="148.00" width="31.10" height="33.00" fill="#f3f3f3"/><rect x="327.30" y="148.00" width="28.00" height="33.00" fill="#f3f3f3"/></g><path d="M119.5,93 Q119.5,86.3 127.2,86.3 Q135,86.3 135,95 Q135,101 130,107 L120,123.5 L137.2,123.5" fill="none" stroke="#6a0a1c" stroke-width="7.0" stroke-linejoin="miter" stroke-linecap="butt"/><path d="M153,121.7 h5.6 v4.3 h-5.6 Z" fill="none" stroke="#6a0a1c" stroke-width="7.0" stroke-linejoin="miter" stroke-linecap="butt"/><path d="M175.5,125.6 V86.3 H182 Q190.7,86.3 190.7,101.5 Q190.7,116.7 182,116.7 H176 M182,116 L193,128" fill="none" stroke="#6a0a1c" stroke-width="7.0" stroke-linejoin="miter" stroke-linecap="butt"/><path d="M208,125.6 L216,86.5 L224,125.6 M212.5,109 L219.5,109" fill="none" stroke="#6a0a1c" stroke-width="7.0" stroke-linejoin="miter" stroke-linecap="butt"/><path d="M243,85.2 V124 Q243,131.5 236,132.5" fill="none" stroke="#6a0a1c" stroke-width="7.0" stroke-linejoin="miter" stroke-linecap="butt"/><path d="M266.5,85.6 V125.6 Q281,124 281,105.6 Q281,87 266.5,85.6" fill="none" stroke="#6a0a1c" stroke-width="7.0" stroke-linejoin="miter" stroke-linecap="butt"/><path d="M77.5,134 L86.5,176 L95.5,134" fill="none" stroke="#6a0a1c" stroke-width="7.0" stroke-linejoin="miter" stroke-linecap="butt"/><path d="M111.5,143 Q111.5,135.5 119,135.5 Q126.3,135.5 126.3,143 V167 Q126.3,175 119,175 Q111.5,175 111.5,167 Z" fill="none" stroke="#6a0a1c" stroke-width="7.0" stroke-linejoin="miter" stroke-linecap="butt"/><path d="M143,134 L158.5,176.5 M158.5,134 L143,176.5" fill="none" stroke="#6a0a1c" stroke-width="7.0" stroke-linejoin="miter" stroke-linecap="butt"/><path d="M175.5,133.5 V174.8 H188" fill="none" stroke="#6a0a1c" stroke-width="7.0" stroke-linejoin="miter" stroke-linecap="butt"/><path d="M203.5,176.5 L211,135 L219,176.5" fill="none" stroke="#6a0a1c" stroke-width="7.0" stroke-linejoin="miter" stroke-linecap="butt"/><path d="M236.5,176.5 V135 L250.5,176.5 V134" fill="none" stroke="#6a0a1c" stroke-width="7.0" stroke-linejoin="miter" stroke-linecap="butt"/><path d="M270.5,134 V175.5 Q286,173.5 286,155 Q286,136 270.5,134" fill="none" stroke="#6a0a1c" stroke-width="7.0" stroke-linejoin="miter" stroke-linecap="butt"/><path d="M305.5,133.5 V168 Q305.5,175.5 312.3,175.5 Q319,175.5 319,168 V133.5" fill="none" stroke="#6a0a1c" stroke-width="7.0" stroke-linejoin="miter" stroke-linecap="butt"/><path d="M119.5,93 Q119.5,86.3 127.2,86.3 Q135,86.3 135,95 Q135,101 130,107 L120,123.5 L137.2,123.5" fill="none" stroke="#fff" stroke-width="5.0" stroke-linejoin="miter" stroke-linecap="butt"/><path d="M153,121.7 h5.6 v4.3 h-5.6 Z" fill="none" stroke="#fff" stroke-width="5.0" stroke-linejoin="miter" stroke-linecap="butt"/><path d="M175.5,125.6 V86.3 H182 Q190.7,86.3 190.7,101.5 Q190.7,116.7 182,116.7 H176 M182,116 L193,128" fill="none" stroke="#fff" stroke-width="5.0" stroke-linejoin="miter" stroke-linecap="butt"/><path d="M208,125.6 L216,86.5 L224,125.6 M212.5,109 L219.5,109" fill="none" stroke="#fff" stroke-width="5.0" stroke-linejoin="miter" stroke-linecap="butt"/><path d="M243,85.2 V124 Q243,131.5 236,132.5" fill="none" stroke="#fff" stroke-width="5.0" stroke-linejoin="miter" stroke-linecap="butt"/><path d="M266.5,85.6 V125.6 Q281,124 281,105.6 Q281,87 266.5,85.6" fill="none" stroke="#fff" stroke-width="5.0" stroke-linejoin="miter" stroke-linecap="butt"/><path d="M77.5,134 L86.5,176 L95.5,134" fill="none" stroke="#fff" stroke-width="5.0" stroke-linejoin="miter" stroke-linecap="butt"/><path d="M111.5,143 Q111.5,135.5 119,135.5 Q126.3,135.5 126.3,143 V167 Q126.3,175 119,175 Q111.5,175 111.5,167 Z" fill="none" stroke="#fff" stroke-width="5.0" stroke-linejoin="miter" stroke-linecap="butt"/><path d="M143,134 L158.5,176.5 M158.5,134 L143,176.5" fill="none" stroke="#fff" stroke-width="5.0" stroke-linejoin="miter" stroke-linecap="butt"/><path d="M175.5,133.5 V174.8 H188" fill="none" stroke="#fff" stroke-width="5.0" stroke-linejoin="miter" stroke-linecap="butt"/><path d="M203.5,176.5 L211,135 L219,176.5" fill="none" stroke="#fff" stroke-width="5.0" stroke-linejoin="miter" stroke-linecap="butt"/><path d="M236.5,176.5 V135 L250.5,176.5 V134" fill="none" stroke="#fff" stroke-width="5.0" stroke-linejoin="miter" stroke-linecap="butt"/><path d="M270.5,134 V175.5 Q286,173.5 286,155 Q286,136 270.5,134" fill="none" stroke="#fff" stroke-width="5.0" stroke-linejoin="miter" stroke-linecap="butt"/><path d="M305.5,133.5 V168 Q305.5,175.5 312.3,175.5 Q319,175.5 319,168 V133.5" fill="none" stroke="#fff" stroke-width="5.0" stroke-linejoin="miter" stroke-linecap="butt"/><g transform="translate(169,53.6) scale(0.1891) translate(-1690.6,-60.6)"><clipPath id="rmclip2"><rect x="1660" y="40" width="400" height="112.7"/></clipPath><g clip-path="url(#rmclip2)"><path d="M1722,132.70 A9.30,9.30 0 0 1 1731.30,142 V152.7 M1722,125.00 A17.00,17.00 0 0 1 1739.00,142 V152.7 M1722,117.40 A24.60,24.60 0 0 1 1746.60,142 V152.7" fill="none" stroke="#ecd8df" stroke-width="6.0" stroke-linejoin="miter" stroke-miterlimit="10"/><path d="M1693.60,152.7 V63.60 H1714.25 A32.35,32.35 0 0 1 1714.25,128.30 H1709 M1701.30,152.7 V71.30 H1714.25 A24.65,24.65 0 0 1 1714.25,120.60 H1709 M1709.00,152.7 V79.00 H1714.25 A16.95,16.95 0 0 1 1714.25,112.90 H1709" fill="none" stroke="#b58a97" stroke-width="9.40" stroke-linejoin="miter" stroke-miterlimit="10"/><path d="M1693.60,152.7 V63.60 H1714.25 A32.35,32.35 0 0 1 1714.25,128.30 H1709 M1701.30,152.7 V71.30 H1714.25 A24.65,24.65 0 0 1 1714.25,120.60 H1709 M1709.00,152.7 V79.00 H1714.25 A16.95,16.95 0 0 1 1714.25,112.90 H1709" fill="none" stroke="#ecd8df" stroke-width="6.0" stroke-linejoin="miter" stroke-miterlimit="10"/><path d="M1759.70,152.7 V89.95 A26.35,26.35 0 0 1 1812.40,89.95 V152.7 M1767.40,152.7 V89.95 A18.65,18.65 0 0 1 1804.70,89.95 V152.7 M1775.10,152.7 V89.95 A10.95,10.95 0 0 1 1797.00,89.95 V152.7" fill="none" stroke="#ecd8df" stroke-width="6.0" stroke-linejoin="miter" stroke-miterlimit="10"/><path d="M1797.80,152.7 V89.95 A26.35,26.35 0 0 1 1850.50,89.95 V152.7 M1805.50,152.7 V89.95 A18.65,18.65 0 0 1 1842.80,89.95 V152.7 M1813.20,152.7 V89.95 A10.95,10.95 0 0 1 1835.10,89.95 V152.7" fill="none" stroke="#b58a97" stroke-width="9.40" stroke-linejoin="miter" stroke-miterlimit="10"/><path d="M1797.80,152.7 V89.95 A26.35,26.35 0 0 1 1850.50,89.95 V152.7 M1805.50,152.7 V89.95 A18.65,18.65 0 0 1 1842.80,89.95 V152.7 M1813.20,152.7 V89.95 A10.95,10.95 0 0 1 1835.10,89.95 V152.7" fill="none" stroke="#ecd8df" stroke-width="6.0" stroke-linejoin="miter" stroke-miterlimit="10"/><path d="M1863.90,109 V89.95 A26.35,26.35 0 0 1 1916.60,89.95 V128.5 H1878.6 V152.7 M1871.60,109 V89.95 A18.65,18.65 0 0 1 1908.90,89.95 V121.3 H1871.1 V152.7 M1879.30,109 V89.95 A10.95,10.95 0 0 1 1901.20,89.95 V113.9 H1863.7 V152.7" fill="none" stroke="#b58a97" stroke-width="9.40" stroke-linejoin="miter" stroke-miterlimit="10"/><path d="M1863.90,109 V89.95 A26.35,26.35 0 0 1 1916.60,89.95 V128.5 H1878.6 V152.7 M1871.60,109 V89.95 A18.65,18.65 0 0 1 1908.90,89.95 V121.3 H1871.1 V152.7 M1879.30,109 V89.95 A10.95,10.95 0 0 1 1901.20,89.95 V113.9 H1863.7 V152.7" fill="none" stroke="#ecd8df" stroke-width="6.0" stroke-linejoin="miter" stroke-miterlimit="10"/><path d="M1901.2,133.3 V152.7 M1908.9,133.3 V152.7 M1916.6,133.3 V152.7" fill="none" stroke="#ecd8df" stroke-width="6.0" stroke-linejoin="miter" stroke-miterlimit="10"/><path d="M1966.95,60.6 V123.35 A26.35,26.35 0 0 0 2019.65,123.35 V60.6 M1974.65,60.6 V123.35 A18.65,18.65 0 0 0 2011.95,123.35 V60.6 M1982.35,60.6 V123.35 A10.95,10.95 0 0 0 2004.25,123.35 V60.6" fill="none" stroke="#ecd8df" stroke-width="6.0" stroke-linejoin="miter" stroke-miterlimit="10"/><path d="M1929.30,60.6 V123.35 A26.35,26.35 0 0 0 1982.00,123.35 V60.6 M1937.00,60.6 V123.35 A18.65,18.65 0 0 0 1974.30,123.35 V60.6 M1944.70,60.6 V123.35 A10.95,10.95 0 0 0 1966.60,123.35 V60.6" fill="none" stroke="#b58a97" stroke-width="9.40" stroke-linejoin="miter" stroke-miterlimit="10"/><path d="M1929.30,60.6 V123.35 A26.35,26.35 0 0 0 1982.00,123.35 V60.6 M1937.00,60.6 V123.35 A18.65,18.65 0 0 0 1974.30,123.35 V60.6 M1944.70,60.6 V123.35 A10.95,10.95 0 0 0 1966.60,123.35 V60.6" fill="none" stroke="#ecd8df" stroke-width="6.0" stroke-linejoin="miter" stroke-miterlimit="10"/></g></g><rect x="169.5" y="73" width="62" height="1.1" fill="#b98896" opacity="0.7"/></svg>
<svg class="a" style="left:1660px;top:40px" width="400" height="140" viewBox="1660 40 400 140"><clipPath id="rmclip"><rect x="1660" y="40" width="400" height="112.7"/></clipPath><g clip-path="url(#rmclip)"><path d="M1722,132.70 A9.30,9.30 0 0 1 1731.30,142 V152.7 M1722,125.00 A17.00,17.00 0 0 1 1739.00,142 V152.7 M1722,117.40 A24.60,24.60 0 0 1 1746.60,142 V152.7" fill="none" stroke="#000" stroke-width="6.0" stroke-linejoin="miter" stroke-miterlimit="10"/><path d="M1693.60,152.7 V63.60 H1714.25 A32.35,32.35 0 0 1 1714.25,128.30 H1709 M1701.30,152.7 V71.30 H1714.25 A24.65,24.65 0 0 1 1714.25,120.60 H1709 M1709.00,152.7 V79.00 H1714.25 A16.95,16.95 0 0 1 1714.25,112.90 H1709" fill="none" stroke="#fff" stroke-width="9.40" stroke-linejoin="miter" stroke-miterlimit="10"/><path d="M1693.60,152.7 V63.60 H1714.25 A32.35,32.35 0 0 1 1714.25,128.30 H1709 M1701.30,152.7 V71.30 H1714.25 A24.65,24.65 0 0 1 1714.25,120.60 H1709 M1709.00,152.7 V79.00 H1714.25 A16.95,16.95 0 0 1 1714.25,112.90 H1709" fill="none" stroke="#000" stroke-width="6.0" stroke-linejoin="miter" stroke-miterlimit="10"/><path d="M1759.70,152.7 V89.95 A26.35,26.35 0 0 1 1812.40,89.95 V152.7 M1767.40,152.7 V89.95 A18.65,18.65 0 0 1 1804.70,89.95 V152.7 M1775.10,152.7 V89.95 A10.95,10.95 0 0 1 1797.00,89.95 V152.7" fill="none" stroke="#000" stroke-width="6.0" stroke-linejoin="miter" stroke-miterlimit="10"/><path d="M1797.80,152.7 V89.95 A26.35,26.35 0 0 1 1850.50,89.95 V152.7 M1805.50,152.7 V89.95 A18.65,18.65 0 0 1 1842.80,89.95 V152.7 M1813.20,152.7 V89.95 A10.95,10.95 0 0 1 1835.10,89.95 V152.7" fill="none" stroke="#fff" stroke-width="9.40" stroke-linejoin="miter" stroke-miterlimit="10"/><path d="M1797.80,152.7 V89.95 A26.35,26.35 0 0 1 1850.50,89.95 V152.7 M1805.50,152.7 V89.95 A18.65,18.65 0 0 1 1842.80,89.95 V152.7 M1813.20,152.7 V89.95 A10.95,10.95 0 0 1 1835.10,89.95 V152.7" fill="none" stroke="#000" stroke-width="6.0" stroke-linejoin="miter" stroke-miterlimit="10"/><path d="M1863.90,109 V89.95 A26.35,26.35 0 0 1 1916.60,89.95 V128.5 H1878.6 V152.7 M1871.60,109 V89.95 A18.65,18.65 0 0 1 1908.90,89.95 V121.3 H1871.1 V152.7 M1879.30,109 V89.95 A10.95,10.95 0 0 1 1901.20,89.95 V113.9 H1863.7 V152.7" fill="none" stroke="#fff" stroke-width="9.40" stroke-linejoin="miter" stroke-miterlimit="10"/><path d="M1863.90,109 V89.95 A26.35,26.35 0 0 1 1916.60,89.95 V128.5 H1878.6 V152.7 M1871.60,109 V89.95 A18.65,18.65 0 0 1 1908.90,89.95 V121.3 H1871.1 V152.7 M1879.30,109 V89.95 A10.95,10.95 0 0 1 1901.20,89.95 V113.9 H1863.7 V152.7" fill="none" stroke="#000" stroke-width="6.0" stroke-linejoin="miter" stroke-miterlimit="10"/><path d="M1901.2,133.3 V152.7 M1908.9,133.3 V152.7 M1916.6,133.3 V152.7" fill="none" stroke="#000" stroke-width="6.0" stroke-linejoin="miter" stroke-miterlimit="10"/><path d="M1966.95,60.6 V123.35 A26.35,26.35 0 0 0 2019.65,123.35 V60.6 M1974.65,60.6 V123.35 A18.65,18.65 0 0 0 2011.95,123.35 V60.6 M1982.35,60.6 V123.35 A10.95,10.95 0 0 0 2004.25,123.35 V60.6" fill="none" stroke="#000" stroke-width="6.0" stroke-linejoin="miter" stroke-miterlimit="10"/><path d="M1929.30,60.6 V123.35 A26.35,26.35 0 0 0 1982.00,123.35 V60.6 M1937.00,60.6 V123.35 A18.65,18.65 0 0 0 1974.30,123.35 V60.6 M1944.70,60.6 V123.35 A10.95,10.95 0 0 0 1966.60,123.35 V60.6" fill="none" stroke="#fff" stroke-width="9.40" stroke-linejoin="miter" stroke-miterlimit="10"/><path d="M1929.30,60.6 V123.35 A26.35,26.35 0 0 0 1982.00,123.35 V60.6 M1937.00,60.6 V123.35 A18.65,18.65 0 0 0 1974.30,123.35 V60.6 M1944.70,60.6 V123.35 A10.95,10.95 0 0 0 1966.60,123.35 V60.6" fill="none" stroke="#000" stroke-width="6.0" stroke-linejoin="miter" stroke-miterlimit="10"/></g><text x="1691" y="162.6" font-family="Liberation Sans" font-weight="bold" font-size="9.6" fill="#1a1a1a" textLength="328" lengthAdjust="spacing">RAJDOWE MISTRZOSTWA AUSTRO-WEGIER</text></svg>
<svg class="a" style="left:0;top:1070px" width="2075" height="100" viewBox="0 1070 2075 100"><g transform="translate(30,1080) scale(0.09639)"><path d="M150 560 Q95 520 110 470 Q90 440 85 430 L100 425 Q120 460 140 470 Q150 380 190 300 Q230 230 280 205 L300 200 Q350 215 400 245 L395 275 L370 300 L330 320 L420 330 L450 345 L440 385 L410 380 L330 370 Q300 380 270 440 Q250 480 260 500 L310 520 L380 585 L390 600 L370 610 L300 560 L230 560 Q220 600 250 690 L220 695 Q180 630 160 580 Z" fill="#1b73a8"/><path d="M340 260 L385 250 L395 230 L380 215 Z" fill="#e8c050"/><path d="M345 285 Q370 300 395 285 L380 300 Z" fill="#c23"/><path d="M462 260 Q470 200 520 215 Q548 225 555 270 Q562 225 590 215 Q640 200 648 260 L645 320 L465 320 Z" fill="#d8202c"/><path d="M462 262 Q470 160 555 150 Q640 160 648 262" fill="none" stroke="#e6be4a" stroke-width="14"/><path d="M555 150 V320" stroke="#e6be4a" stroke-width="14"/><rect x="540" y="122" width="30" height="40" fill="#e6be4a"/><rect x="460" y="300" width="190" height="32" fill="#e6be4a"/><g fill="#e6be4a"><circle cx="505" cy="270" r="14"/><circle cx="605" cy="270" r="14"/><circle cx="555" cy="280" r="12"/></g><circle cx="510" cy="316" r="8" fill="#2a8a3a"/><circle cx="600" cy="316" r="8" fill="#2a8a3a"/><circle cx="555" cy="316" r="8" fill="#c03"/><clipPath id="shv"><path d="M405 330 H690 V540 Q690 640 548 690 Q405 640 405 540 Z"/></clipPath><g clip-path="url(#shv)"><rect x="400" y="330" width="300" height="370" fill="#fff"/><rect x="405" y="330" width="48" height="53" fill="#1b73a8"/><rect x="501" y="330" width="48" height="53" fill="#1b73a8"/><rect x="597" y="330" width="48" height="53" fill="#1b73a8"/><rect x="453" y="383" width="48" height="53" fill="#1b73a8"/><rect x="549" y="383" width="48" height="53" fill="#1b73a8"/><rect x="645" y="383" width="48" height="53" fill="#1b73a8"/><rect x="405" y="436" width="48" height="53" fill="#1b73a8"/><rect x="501" y="436" width="48" height="53" fill="#1b73a8"/><rect x="597" y="436" width="48" height="53" fill="#1b73a8"/><rect x="453" y="489" width="48" height="53" fill="#1b73a8"/><rect x="549" y="489" width="48" height="53" fill="#1b73a8"/><rect x="645" y="489" width="48" height="53" fill="#1b73a8"/><rect x="405" y="542" width="48" height="53" fill="#1b73a8"/><rect x="501" y="542" width="48" height="53" fill="#1b73a8"/><rect x="597" y="542" width="48" height="53" fill="#1b73a8"/><rect x="453" y="595" width="48" height="53" fill="#1b73a8"/><rect x="549" y="595" width="48" height="53" fill="#1b73a8"/><rect x="645" y="595" width="48" height="53" fill="#1b73a8"/><rect x="405" y="648" width="48" height="53" fill="#1b73a8"/><rect x="501" y="648" width="48" height="53" fill="#1b73a8"/><rect x="597" y="648" width="48" height="53" fill="#1b73a8"/></g><path d="M405 330 H690 V540 Q690 640 548 690 Q405 640 405 540 Z" fill="none" stroke="#aaa" stroke-width="6"/><path d="M548 375 Q530 385 535 410 L520 430 L500 410 L470 420 L455 470 L470 520 L490 560 L520 570 L510 600 L548 640 L586 600 L576 570 L606 560 L626 520 L641 470 L626 420 L596 410 L576 430 L561 410 Q566 385 548 375 Z" fill="#1f1f1f"/><path d="M460 420 L470 460 M480 410 L490 450 M636 420 L626 460 M616 410 L606 450" stroke="#fff" stroke-width="5"/><circle cx="548" cy="392" r="10" fill="#e6be4a"/><path d="M640 355 L700 345 L760 330 Q790 300 760 280 L740 270 L730 260 Q760 240 800 245 L850 250 L880 270 L860 285 L830 290 Q840 380 880 440 Q930 510 920 560 L890 520 L900 610 L860 690 L825 690 L860 600 L820 520 L770 560 L700 560 L700 545 L760 520 L780 480 Q760 420 740 380 L700 380 L650 370 Z" fill="#7a5c44"/><path d="M790 240 L800 210 L815 225 L830 205 L845 225 L855 210 L860 245 Z" fill="#e6be4a"/><g stroke="#8a8a8a" stroke-width="7" fill="none"><path d="M860 265 L1010 210 M900 250 L880 200 M940 235 L930 190 M975 222 L990 195 M870 290 L1010 270 M910 285 L960 330 M950 280 L990 320"/></g></g><text x="139.9" y="1116.1" font-family="Liberation Serif" font-weight="bold" font-size="17" fill="#111" >Królestwo</text><text x="139.9" y="1134" font-family="Liberation Serif" font-weight="bold" font-size="17" fill="#111" >Voxlandu</text><g><path d="M253.9 1107.2 L262 1095 L278.7 1092.1 L295.5 1095 L303 1107.2 L278.7 1146.5 Z" fill="#3a0000"/><path d="M278.7 1107 L303 1107.2 L278.7 1146.5 Z" fill="#b80000"/><path d="M276 1108 L286 1107 L280 1146 Z" fill="#ff1a1a"/><path d="M295.5 1095 L303 1107.2 L288 1112 L286 1100 Z" fill="#e00a0a"/><path d="M253.9 1107.2 L262 1095 L270 1102 L262 1111 Z" fill="#c00000"/><path d="M262 1111 L270 1102 L276 1108 L268 1120 Z" fill="#d40000"/><path d="M268 1096 L278 1094.5 L272 1101 Z" fill="#fff"/><path d="M270 1111 L279 1108 L279 1113 Z" fill="#fff"/><path d="M253.9 1107.2 L268 1120 L278.7 1146.5 Z" fill="#250000"/></g><text x="315.2" y="1115.9" font-family="Liberation Serif" font-weight="bold" font-size="17" fill="#111" >Jubiler</text><text x="315.2" y="1134.4" font-family="Liberation Serif" font-weight="bold" font-size="17" fill="#111" >Diamant</text><path d="M418.1 1092.1 H463.8 V1122 Q463.8 1138 441 1146.5 Q418.1 1138 418.1 1122 Z" fill="#1a6fa2"/><g stroke="#fff" stroke-width="2.3" fill="none" stroke-linecap="round"><path d="M437 1123 Q425 1116 424 1106 Q423 1100 426 1097 M424.5 1109 L420.5 1106 M424 1103 L420 1100 M430 1118 L426 1117 M433 1119 L434 1112"/><path d="M445 1123 Q457 1116 458 1106 Q459 1100 456 1097 M457.5 1109 L461.5 1106 M458 1103 L462 1100 M452 1118 L456 1117 M449 1119 L448 1112"/></g><path d="M426 1122 Q432 1121 436 1123 L441 1122 L446 1123 Q450 1121 456 1122 Q454 1127 447 1127.5 L445.5 1140 Q441 1145 436.5 1140 L435 1127.5 Q428 1127 426 1122 Z" fill="#7a5a3e"/><circle cx="437.5" cy="1129" r="0.9" fill="#cfd8e0"/><circle cx="444.5" cy="1129" r="0.9" fill="#cfd8e0"/><path d="M434.5 1106 Q434 1100 437.5 1100 Q439.5 1100 441 1102 Q442.5 1100 444.5 1100 Q448 1100 447.5 1106 Z" fill="#d22030"/><path d="M434.8 1103 Q436 1096.5 441 1096 Q446 1096.5 447.2 1103" fill="none" stroke="#e6be4a" stroke-width="1.1"/><path d="M441 1095 V1106" stroke="#e6be4a" stroke-width="1"/><rect x="440.2" y="1092.6" width="1.6" height="2.8" fill="#e6be4a"/><rect x="434.3" y="1105.6" width="13.4" height="2.3" fill="#e6be4a"/><text x="475.9" y="1115.8" font-family="Liberation Serif" font-weight="bold" font-size="17" fill="#111" >Księstwo</text><text x="475.9" y="1134" font-family="Liberation Serif" font-weight="bold" font-size="17" fill="#111" >Drawskie</text><g><path d="M596 1100 Q602 1095 605 1095 M613 1095 Q617 1095 622 1100" fill="none" stroke="#d9b04a" stroke-width="1"/><path d="M588 1116 Q588 1102 600 1099 L609 1104 L618 1099 Q630 1102 630 1116 Q632 1136 609 1146.5 Q586 1136 588 1116 Z" fill="#1f3a95"/><g fill="#d7b14a"><ellipse cx="594" cy="1122" rx="9" ry="5" transform="rotate(25 594 1122)"/><ellipse cx="624" cy="1121" rx="9" ry="5" transform="rotate(-25 624 1121)"/><ellipse cx="601" cy="1109" rx="4.5" ry="8" transform="rotate(-25 601 1109)"/><ellipse cx="617" cy="1109" rx="4.5" ry="8" transform="rotate(25 617 1109)"/><path d="M592 1132 Q600 1128 607 1136 L606 1146 Q596 1142 592 1132 Z" fill="#caa23c"/><path d="M626 1133 Q620 1129 613 1136 L613 1140 Q622 1139 626 1133 Z" fill="#caa23c"/></g><path d="M603 1101 L605 1096 L607 1099 L609 1092.5 L611 1099 L613 1096 L615 1101 Z" fill="#e0b848"/><circle cx="609.20" cy="1117.90" r="4.2" fill="#1d4fc4" stroke="#102a70" stroke-width="0.5"/><circle cx="614.53" cy="1121.77" r="4.2" fill="#1d4fc4" stroke="#102a70" stroke-width="0.5"/><circle cx="612.49" cy="1128.03" r="4.2" fill="#1d4fc4" stroke="#102a70" stroke-width="0.5"/><circle cx="605.91" cy="1128.03" r="4.2" fill="#1d4fc4" stroke="#102a70" stroke-width="0.5"/><circle cx="603.87" cy="1121.77" r="4.2" fill="#1d4fc4" stroke="#102a70" stroke-width="0.5"/><circle cx="609.2" cy="1123.5" r="2.4" fill="#f0c040"/><path d="M609.3 1131 V1147" stroke="#c9a040" stroke-width="1"/><path d="M591 1106 Q586 1116 588 1126 M627 1106 Q632 1116 630 1126" fill="none" stroke="#d9b04a" stroke-width="1.2"/></g><text x="645" y="1115.8" font-family="Liberation Serif" font-weight="bold" font-size="17" fill="#111" >Lieselotte</text><text x="645" y="1134" font-family="Liberation Serif" font-weight="bold" font-size="17" fill="#111" >Augentrost</text><g><circle cx="793.4" cy="1119.4" r="26.9" fill="#fff" stroke="#444" stroke-width="1"/><circle cx="793.4" cy="1119.4" r="19.8" fill="none" stroke="#444" stroke-width="0.9"/><circle cx="793.4" cy="1119.4" r="23.3" fill="none" stroke="#777" stroke-width="3.2" stroke-dasharray="1.6 0.9" opacity="0.55"/><path d="M793.4 1103 L790 1107 L789 1111 L776 1108 L779 1126 L786 1134 L793.4 1136 L801 1134 L808 1126 L811 1108 L798 1111 L797 1107 Z" fill="#2a2a2a"/><path d="M784 1131 L789 1122 M803 1131 L798 1122" stroke="#fff" stroke-width="1.4"/><path d="M770.5 1119.4 h4 M772.5 1117.4 v4 M812.3 1119.4 h4 M814.3 1117.4 v4" stroke="#333" stroke-width="1.2"/></g><rect x="859.9" y="1103.1" width="32.4" height="32.6" fill="#ff7800"/><text x="896.5" y="1117" font-family="Liberation Sans" font-weight="bold" font-size="18.3" fill="#000" stroke="#000" stroke-width="0.45" textLength="69.5" lengthAdjust="spacingAndGlyphs">GIBSON</text><text x="896.5" y="1134.6" font-family="Liberation Sans" font-weight="bold" font-size="18.3" fill="#000" stroke="#000" stroke-width="0.45" textLength="63.4" lengthAdjust="spacingAndGlyphs">GROUP</text><text x="1005" y="1133.5" font-family="Liberation Serif" font-weight="bold" font-style="italic" font-size="41" fill="#0f2a16" stroke="#0f2a16" stroke-width="1.6" stroke-linejoin="round" textLength="104" lengthAdjust="spacingAndGlyphs">Nadel</text><path d="M1037 1096.5 L1084 1098.5 L1037 1100 Z" fill="#111"/><path d="M1040 1098 Q1055 1106 1050 1110 Q1062 1112 1060 1114" fill="none" stroke="#222" stroke-width="0.9"/><text x="1006" y="1140.6" font-family="Liberation Serif" font-weight="bold" font-style="italic" font-size="6.4" fill="#0f2a16" textLength="106" lengthAdjust="spacingAndGlyphs">Fabrik der Bekleidungsindustrie</text><g transform="translate(1151.40,1091.50) scale(1.0025)"><g fill="none" stroke="#9a9a9a" stroke-width="3.6" stroke-linecap="round"><path d="M16 33 Q6 26 3 16 Q1 10 4 5 M4 13 L1 10 M3 18 L0 16 M6 23 L3 23 M9 27 L10 19 M6 9 L9 5 M24 33 Q34 26 37 16 Q39 10 36 5 M36 13 L39 10 M37 18 L40 16 M34 23 L37 23 M31 27 L30 19 M34 9 L31 5"/></g><g fill="none" stroke="#fff" stroke-width="2" stroke-linecap="round"><path d="M16 33 Q6 26 3 16 Q1 10 4 5 M4 13 L1 10 M3 18 L0 16 M6 23 L3 23 M9 27 L10 19 M6 9 L9 5 M24 33 Q34 26 37 16 Q39 10 36 5 M36 13 L39 10 M37 18 L40 16 M34 23 L37 23 M31 27 L30 19 M34 9 L31 5"/></g><path d="M1 32 Q8 38 14 36 Q20 33 26 36 Q32 38 39 32 Q38 38 28 40 L25 51 Q20 56 15 51 L12 40 Q2 38 1 32 Z" fill="#735541"/><circle cx="15" cy="41" r="1.2" fill="#cfd8e0"/><circle cx="25" cy="41" r="1.2" fill="#cfd8e0"/><path d="M12.5 15.5 Q12 8 15.5 8 Q18.5 8 20 11 Q21.5 8 24.5 8 Q28 8 27.5 15.5 Z" fill="#d22030"/><path d="M12.8 12 Q14 4.8 20 4.3 Q26 4.8 27.2 12" fill="none" stroke="#e6be4a" stroke-width="1.3"/><path d="M20 4 V15" stroke="#e6be4a" stroke-width="1.2"/><rect x="19" y="0.5" width="2" height="4" fill="#e6be4a"/><rect x="12.5" y="14.5" width="15" height="2.2" fill="#e6be4a"/><circle cx="16" cy="12.5" r="1" fill="#e6be4a"/><circle cx="24" cy="12.5" r="1" fill="#e6be4a"/><rect x="13" y="16.7" width="14" height="0.9" fill="#2a8a3a"/></g><text x="1203.8" y="1106.5" font-family="Liberation Serif" font-weight="bold" font-size="17" fill="#111" >Sophie Susanne</text><text x="1203.8" y="1125" font-family="Liberation Serif" font-weight="bold" font-size="17" fill="#111" >Cargalho</text><text x="1203.8" y="1143.1" font-family="Liberation Serif" font-weight="bold" font-size="17" fill="#111" >Windsachen</text><g transform="translate(1359.00,1092.10) scale(1.0275)"><g fill="none" stroke="#9a9a9a" stroke-width="3.6" stroke-linecap="round"><path d="M16 33 Q6 26 3 16 Q1 10 4 5 M4 13 L1 10 M3 18 L0 16 M6 23 L3 23 M9 27 L10 19 M6 9 L9 5 M24 33 Q34 26 37 16 Q39 10 36 5 M36 13 L39 10 M37 18 L40 16 M34 23 L37 23 M31 27 L30 19 M34 9 L31 5"/></g><g fill="none" stroke="#fff" stroke-width="2" stroke-linecap="round"><path d="M16 33 Q6 26 3 16 Q1 10 4 5 M4 13 L1 10 M3 18 L0 16 M6 23 L3 23 M9 27 L10 19 M6 9 L9 5 M24 33 Q34 26 37 16 Q39 10 36 5 M36 13 L39 10 M37 18 L40 16 M34 23 L37 23 M31 27 L30 19 M34 9 L31 5"/></g><path d="M1 32 Q8 38 14 36 Q20 33 26 36 Q32 38 39 32 Q38 38 28 40 L25 51 Q20 56 15 51 L12 40 Q2 38 1 32 Z" fill="#735541"/><circle cx="15" cy="41" r="1.2" fill="#cfd8e0"/><circle cx="25" cy="41" r="1.2" fill="#cfd8e0"/><path d="M12.5 15.5 Q12 8 15.5 8 Q18.5 8 20 11 Q21.5 8 24.5 8 Q28 8 27.5 15.5 Z" fill="#d22030"/><path d="M12.8 12 Q14 4.8 20 4.3 Q26 4.8 27.2 12" fill="none" stroke="#e6be4a" stroke-width="1.3"/><path d="M20 4 V15" stroke="#e6be4a" stroke-width="1.2"/><rect x="19" y="0.5" width="2" height="4" fill="#e6be4a"/><rect x="12.5" y="14.5" width="15" height="2.2" fill="#e6be4a"/><circle cx="16" cy="12.5" r="1" fill="#e6be4a"/><circle cx="24" cy="12.5" r="1" fill="#e6be4a"/><rect x="13" y="16.7" width="14" height="0.9" fill="#2a8a3a"/></g><text x="1411.5" y="1103.7" font-family="Liberation Serif" font-weight="bold" font-size="8.4" fill="#111" textLength="120.5" lengthAdjust="spacingAndGlyphs">HKH Konigprins Prins af Dravsk</text><text x="1411.5" y="1120.5" font-family="Liberation Serif" font-weight="bold" font-size="17" fill="#111" >Krzysztof Windsor-</text><text x="1411.5" y="1138.4" font-family="Liberation Serif" font-weight="bold" font-size="17" fill="#111" >Windsachen</text><path id="karc" d="M1598 1131 Q1664 1093 1734 1134" fill="none"/><text font-family="Liberation Sans" font-weight="bold" font-size="16.5" fill="#000" stroke="#000" stroke-width="0.9"><textPath href="#karc" textLength="138" lengthAdjust="spacingAndGlyphs">Die  Karawane</textPath></text><text x="1632" y="1129.8" font-family="Liberation Sans" font-weight="bold" font-size="9.5" fill="#000" stroke="#000" stroke-width="0.5" textLength="61" lengthAdjust="spacingAndGlyphs">kaufhaus</text><g transform="translate(1765,1085) scale(0.055)"><path d="M1180 130 C950 170 760 230 780 300 C800 400 1000 470 1060 530 C1080 580 900 620 600 680 C300 750 140 830 150 900 C160 980 260 1060 350 1085 L1650 1085 C1660 900 1660 700 1650 580 C1620 470 1400 400 1100 330 C960 290 980 230 1180 130 Z" fill="#1e1e1e"/><path d="M1120 165 C900 240 850 300 880 360 C950 440 1300 480 1350 540 C1380 600 1200 650 1060 690" fill="none" stroke="#fff" stroke-width="22" stroke-dasharray="120 18"/><text transform="translate(150 990) scale(1.803 2.174)" font-family="Liberation Sans" font-weight="bold" font-size="100" fill="#111" stroke="#d41414" stroke-width="1.1" vector-effect="non-scaling-stroke">L</text><text transform="translate(270 1000) scale(1.642 2.464)" font-family="Liberation Sans" font-weight="bold" font-size="100" fill="#111" stroke="#d41414" stroke-width="1.1" vector-effect="non-scaling-stroke">E</text><text transform="translate(390 1010) scale(1.667 2.899)" font-family="Liberation Sans" font-weight="bold" font-size="100" fill="#111" stroke="#d41414" stroke-width="1.1" vector-effect="non-scaling-stroke">O</text><text transform="translate(560 1020) scale(1.944 3.333)" font-family="Liberation Sans" font-weight="bold" font-size="100" fill="#111" stroke="#d41414" stroke-width="1.1" vector-effect="non-scaling-stroke">D</text><text transform="translate(730 1030) scale(2.222 3.768)" font-family="Liberation Sans" font-weight="bold" font-size="100" fill="#111" stroke="#d41414" stroke-width="1.1" vector-effect="non-scaling-stroke">R</text><text transform="translate(900 1050) scale(2.308 4.203)" font-family="Liberation Sans" font-weight="bold" font-size="100" fill="#111" stroke="#d41414" stroke-width="1.1" vector-effect="non-scaling-stroke">O</text><text transform="translate(1070 1060) scale(2.308 4.565)" font-family="Liberation Sans" font-weight="bold" font-size="100" fill="#111" stroke="#d41414" stroke-width="1.1" vector-effect="non-scaling-stroke">G</text><text transform="translate(1250 1070) scale(2.083 4.928)" font-family="Liberation Sans" font-weight="bold" font-size="100" fill="#111" stroke="#d41414" stroke-width="1.1" vector-effect="non-scaling-stroke">B</text><text transform="translate(1410 1090) scale(1.667 5.362)" font-family="Liberation Sans" font-weight="bold" font-size="100" fill="#111" stroke="#d41414" stroke-width="1.1" vector-effect="non-scaling-stroke">U</text><text transform="translate(1540 1100) scale(1.528 5.652)" font-family="Liberation Sans" font-weight="bold" font-size="100" fill="#111" stroke="#d41414" stroke-width="1.1" vector-effect="non-scaling-stroke">D</text></g><g><path d="M1899 1108 Q1918.5 1098 1938 1108 L1939 1132 L1918.5 1146 L1898 1132 Z" fill="#fbf5e6" stroke="#e8d8a8" stroke-width="0.5"/><path d="M1899 1107 Q1918.5 1098.5 1938 1107 L1936.5 1110 Q1918.5 1103 1900.5 1110 Z" fill="#d8262a"/><path d="M1899 1107 L1898.5 1130 L1904 1129 L1906.5 1110 Z M1938 1107 L1938.5 1130 L1933 1129 L1930.5 1110 Z" fill="#d8262a"/><path d="M1898.5 1130 L1904 1129 M1938.5 1130 L1933 1129" stroke="#e6be4a" stroke-width="1.2"/><g fill="none" stroke="#e6be4a" stroke-width="0.9"><path d="M1897 1110 Q1895 1116 1897 1120 M1940 1110 Q1942 1116 1940 1120 M1907 1098 Q1905 1102 1909 1103 M1930 1098 Q1932 1102 1928 1103"/></g><circle cx="1901.6" cy="1105" r="3.1" fill="#c81e22"/><circle cx="1935.4" cy="1105" r="3.1" fill="#c81e22"/><path d="M1913.8 1102 L1914 1096 L1916.5 1097.5 L1918.5 1093.2 L1920.5 1097.5 L1923 1096 L1923.2 1102 Z" fill="#d8262a" stroke="#e6be4a" stroke-width="0.8"/><path d="M1912 1113 L1912.5 1108.5 L1915 1110 L1918.5 1107 L1922 1110 L1924.5 1108.5 L1925 1113 Z" fill="#d8262a" stroke="#e6be4a" stroke-width="0.7"/><path d="M1909.5 1114 H1927.5 V1127 Q1927.5 1133 1918.5 1136 Q1909.5 1133 1909.5 1127 Z" fill="#e6be4a"/><path d="M1911 1115.5 H1926 V1126.5 Q1926 1131.5 1918.5 1134.3 Q1911 1131.5 1911 1126.5 Z" fill="#d60e10"/><path d="M1918.5 1118 L1916 1121 L1912.5 1119 L1913.5 1126 L1916.5 1128 L1918.5 1132 L1920.5 1128 L1923.5 1126 L1924.5 1119 L1921 1121 Z" fill="#111"/><g fill="#e0b040"><circle cx="1928.8" cy="1127.8" r="0.8"/><circle cx="1926.9" cy="1131.1" r="0.8"/><circle cx="1924.0" cy="1133.5" r="0.8"/><circle cx="1920.4" cy="1134.8" r="0.8"/><circle cx="1916.6" cy="1134.8" r="0.8"/><circle cx="1913.0" cy="1133.5" r="0.8"/><circle cx="1910.1" cy="1131.1" r="0.8"/><circle cx="1908.2" cy="1127.8" r="0.8"/></g></g><text x="1953.3" y="1115.7" font-family="Liberation Serif" font-weight="bold" font-size="17" fill="#111" >Związek</text><text x="1953.3" y="1134" font-family="Liberation Serif" font-weight="bold" font-size="17" fill="#111" >Winkulijski</text></svg>
</body></html>
